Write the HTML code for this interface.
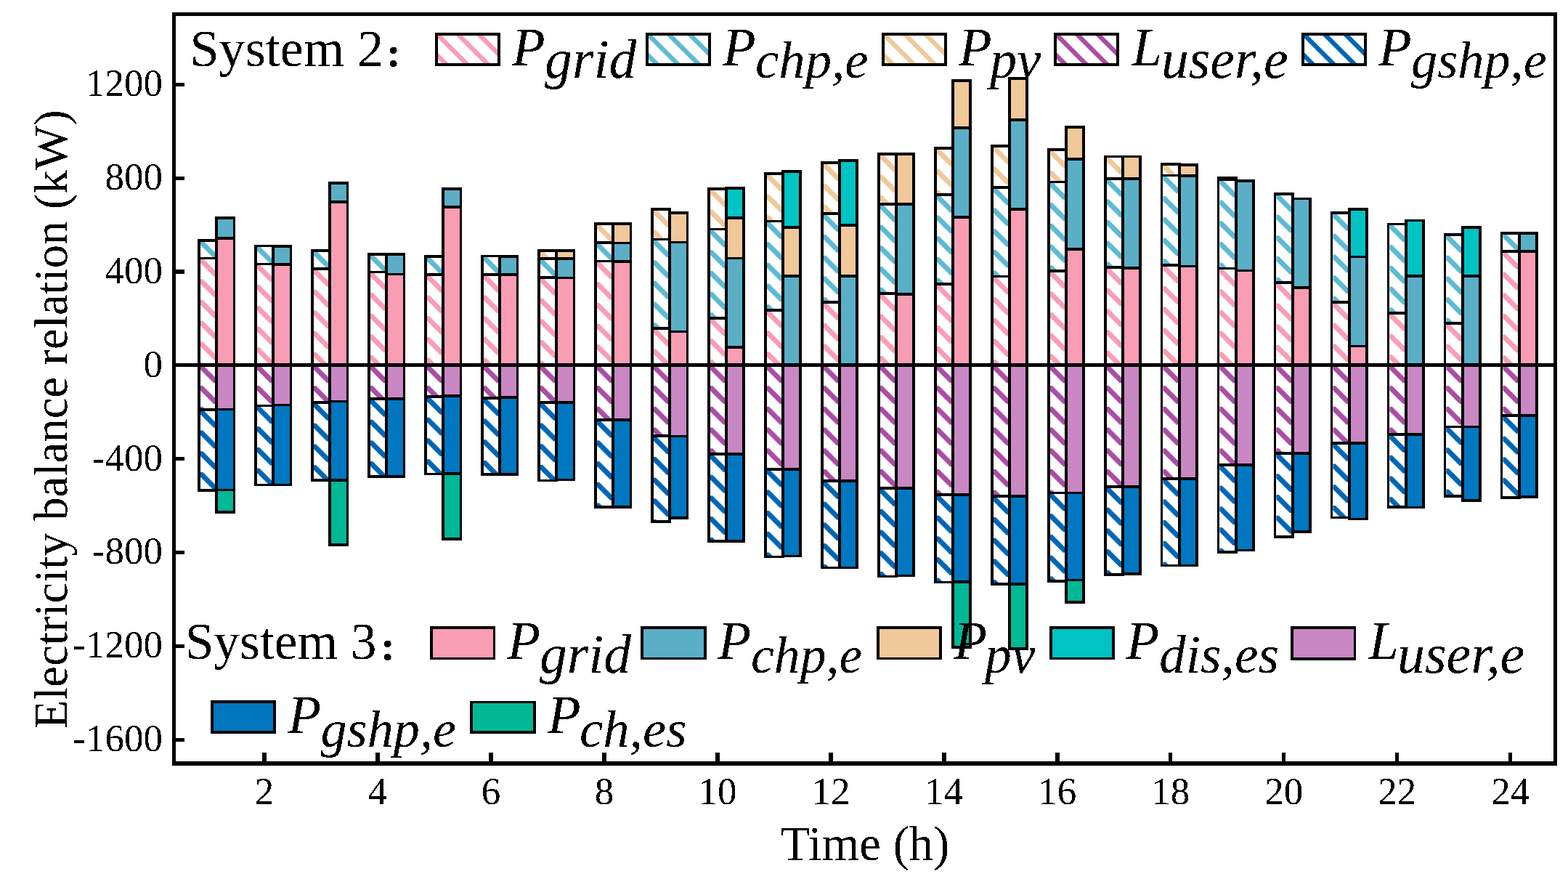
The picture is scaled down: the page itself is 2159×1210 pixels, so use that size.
<!DOCTYPE html>
<html><head><meta charset="utf-8"><title>Electricity balance relation</title>
<style>html,body{margin:0;padding:0;background:#fff;overflow:hidden}svg{display:block}</style></head>
<body>
<svg width="2159" height="1210" viewBox="0 0 2159 1210" shape-rendering="crispEdges" font-family="'Liberation Serif', 'Times New Roman', serif">
<defs>
<filter id="bin" x="0" y="0" width="100%" height="100%" filterUnits="userSpaceOnUse" color-interpolation-filters="sRGB"><feComponentTransfer><feFuncA type="discrete" tableValues="0 1"/></feComponentTransfer></filter>
<pattern id="h1" patternUnits="userSpaceOnUse" x="275.83" y="355.60" width="28.70" height="28.70"><polygon points="0.00,0.00 3.75,0.00 28.55,24.80 18.25,24.80 0.00,6.55" fill="#F99DB5"/></pattern>
<pattern id="h2" patternUnits="userSpaceOnUse" x="275.83" y="330.80" width="28.70" height="28.70"><polygon points="0.00,0.00 3.75,0.00 28.55,24.80 18.25,24.80 0.00,6.55" fill="#5DBAD4"/></pattern>
<pattern id="h3" patternUnits="userSpaceOnUse" x="275.83" y="502.45" width="28.70" height="28.70"><polygon points="0.00,0.00 3.75,0.00 28.55,24.80 18.25,24.80 0.00,6.55" fill="#AA4DA6"/></pattern>
<pattern id="h4" patternUnits="userSpaceOnUse" x="275.83" y="563.90" width="28.70" height="28.70"><polygon points="0.00,0.00 3.75,0.00 28.55,24.80 18.25,24.80 0.00,6.55" fill="#0066B5"/></pattern>
<pattern id="h5" patternUnits="userSpaceOnUse" x="353.81" y="363.50" width="28.70" height="28.70"><polygon points="0.00,0.00 3.75,0.00 28.55,24.80 18.25,24.80 0.00,6.55" fill="#F99DB5"/></pattern>
<pattern id="h6" patternUnits="userSpaceOnUse" x="353.81" y="338.60" width="28.70" height="28.70"><polygon points="0.00,0.00 3.75,0.00 28.55,24.80 18.25,24.80 0.00,6.55" fill="#5DBAD4"/></pattern>
<pattern id="h7" patternUnits="userSpaceOnUse" x="353.81" y="502.45" width="28.70" height="28.70"><polygon points="0.00,0.00 3.75,0.00 28.55,24.80 18.25,24.80 0.00,6.55" fill="#AA4DA6"/></pattern>
<pattern id="h8" patternUnits="userSpaceOnUse" x="353.81" y="558.50" width="28.70" height="28.70"><polygon points="0.00,0.00 3.75,0.00 28.55,24.80 18.25,24.80 0.00,6.55" fill="#0066B5"/></pattern>
<pattern id="h9" patternUnits="userSpaceOnUse" x="431.79" y="370.00" width="28.70" height="28.70"><polygon points="0.00,0.00 3.75,0.00 28.55,24.80 18.25,24.80 0.00,6.55" fill="#F99DB5"/></pattern>
<pattern id="h10" patternUnits="userSpaceOnUse" x="431.79" y="344.90" width="28.70" height="28.70"><polygon points="0.00,0.00 3.75,0.00 28.55,24.80 18.25,24.80 0.00,6.55" fill="#5DBAD4"/></pattern>
<pattern id="h11" patternUnits="userSpaceOnUse" x="431.79" y="502.45" width="28.70" height="28.70"><polygon points="0.00,0.00 3.75,0.00 28.55,24.80 18.25,24.80 0.00,6.55" fill="#AA4DA6"/></pattern>
<pattern id="h12" patternUnits="userSpaceOnUse" x="431.79" y="554.10" width="28.70" height="28.70"><polygon points="0.00,0.00 3.75,0.00 28.55,24.80 18.25,24.80 0.00,6.55" fill="#0066B5"/></pattern>
<pattern id="h13" patternUnits="userSpaceOnUse" x="509.76" y="374.40" width="28.70" height="28.70"><polygon points="0.00,0.00 3.75,0.00 28.55,24.80 18.25,24.80 0.00,6.55" fill="#F99DB5"/></pattern>
<pattern id="h14" patternUnits="userSpaceOnUse" x="509.76" y="349.80" width="28.70" height="28.70"><polygon points="0.00,0.00 3.75,0.00 28.55,24.80 18.25,24.80 0.00,6.55" fill="#5DBAD4"/></pattern>
<pattern id="h15" patternUnits="userSpaceOnUse" x="509.76" y="502.45" width="28.70" height="28.70"><polygon points="0.00,0.00 3.75,0.00 28.55,24.80 18.25,24.80 0.00,6.55" fill="#AA4DA6"/></pattern>
<pattern id="h16" patternUnits="userSpaceOnUse" x="509.76" y="549.00" width="28.70" height="28.70"><polygon points="0.00,0.00 3.75,0.00 28.55,24.80 18.25,24.80 0.00,6.55" fill="#0066B5"/></pattern>
<pattern id="h17" patternUnits="userSpaceOnUse" x="587.75" y="377.80" width="28.70" height="28.70"><polygon points="0.00,0.00 3.75,0.00 28.55,24.80 18.25,24.80 0.00,6.55" fill="#F99DB5"/></pattern>
<pattern id="h18" patternUnits="userSpaceOnUse" x="587.75" y="353.00" width="28.70" height="28.70"><polygon points="0.00,0.00 3.75,0.00 28.55,24.80 18.25,24.80 0.00,6.55" fill="#5DBAD4"/></pattern>
<pattern id="h19" patternUnits="userSpaceOnUse" x="587.75" y="502.45" width="28.70" height="28.70"><polygon points="0.00,0.00 3.75,0.00 28.55,24.80 18.25,24.80 0.00,6.55" fill="#AA4DA6"/></pattern>
<pattern id="h20" patternUnits="userSpaceOnUse" x="587.75" y="546.00" width="28.70" height="28.70"><polygon points="0.00,0.00 3.75,0.00 28.55,24.80 18.25,24.80 0.00,6.55" fill="#0066B5"/></pattern>
<pattern id="h21" patternUnits="userSpaceOnUse" x="665.73" y="377.80" width="28.70" height="28.70"><polygon points="0.00,0.00 3.75,0.00 28.55,24.80 18.25,24.80 0.00,6.55" fill="#F99DB5"/></pattern>
<pattern id="h22" patternUnits="userSpaceOnUse" x="665.73" y="352.40" width="28.70" height="28.70"><polygon points="0.00,0.00 3.75,0.00 28.55,24.80 18.25,24.80 0.00,6.55" fill="#5DBAD4"/></pattern>
<pattern id="h23" patternUnits="userSpaceOnUse" x="665.73" y="502.45" width="28.70" height="28.70"><polygon points="0.00,0.00 3.75,0.00 28.55,24.80 18.25,24.80 0.00,6.55" fill="#AA4DA6"/></pattern>
<pattern id="h24" patternUnits="userSpaceOnUse" x="665.73" y="547.80" width="28.70" height="28.70"><polygon points="0.00,0.00 3.75,0.00 28.55,24.80 18.25,24.80 0.00,6.55" fill="#0066B5"/></pattern>
<pattern id="h25" patternUnits="userSpaceOnUse" x="743.71" y="381.90" width="28.70" height="28.70"><polygon points="0.00,0.00 3.75,0.00 28.55,24.80 18.25,24.80 0.00,6.55" fill="#F99DB5"/></pattern>
<pattern id="h26" patternUnits="userSpaceOnUse" x="743.71" y="356.10" width="28.70" height="28.70"><polygon points="0.00,0.00 3.75,0.00 28.55,24.80 18.25,24.80 0.00,6.55" fill="#5DBAD4"/></pattern>
<pattern id="h27" patternUnits="userSpaceOnUse" x="743.71" y="345.20" width="28.70" height="28.70"><polygon points="0.00,0.00 3.75,0.00 28.55,24.80 18.25,24.80 0.00,6.55" fill="#F0C89A"/></pattern>
<pattern id="h28" patternUnits="userSpaceOnUse" x="743.71" y="502.45" width="28.70" height="28.70"><polygon points="0.00,0.00 3.75,0.00 28.55,24.80 18.25,24.80 0.00,6.55" fill="#AA4DA6"/></pattern>
<pattern id="h29" patternUnits="userSpaceOnUse" x="743.71" y="553.90" width="28.70" height="28.70"><polygon points="0.00,0.00 3.75,0.00 28.55,24.80 18.25,24.80 0.00,6.55" fill="#0066B5"/></pattern>
<pattern id="h30" patternUnits="userSpaceOnUse" x="821.69" y="359.60" width="28.70" height="28.70"><polygon points="0.00,0.00 3.75,0.00 28.55,24.80 18.25,24.80 0.00,6.55" fill="#F99DB5"/></pattern>
<pattern id="h31" patternUnits="userSpaceOnUse" x="821.69" y="334.00" width="28.70" height="28.70"><polygon points="0.00,0.00 3.75,0.00 28.55,24.80 18.25,24.80 0.00,6.55" fill="#5DBAD4"/></pattern>
<pattern id="h32" patternUnits="userSpaceOnUse" x="821.69" y="308.10" width="28.70" height="28.70"><polygon points="0.00,0.00 3.75,0.00 28.55,24.80 18.25,24.80 0.00,6.55" fill="#F0C89A"/></pattern>
<pattern id="h33" patternUnits="userSpaceOnUse" x="821.69" y="502.45" width="28.70" height="28.70"><polygon points="0.00,0.00 3.75,0.00 28.55,24.80 18.25,24.80 0.00,6.55" fill="#AA4DA6"/></pattern>
<pattern id="h34" patternUnits="userSpaceOnUse" x="821.69" y="577.70" width="28.70" height="28.70"><polygon points="0.00,0.00 3.75,0.00 28.55,24.80 18.25,24.80 0.00,6.55" fill="#0066B5"/></pattern>
<pattern id="h35" patternUnits="userSpaceOnUse" x="899.67" y="451.80" width="28.70" height="28.70"><polygon points="0.00,0.00 3.75,0.00 28.55,24.80 18.25,24.80 0.00,6.55" fill="#F99DB5"/></pattern>
<pattern id="h36" patternUnits="userSpaceOnUse" x="899.67" y="329.60" width="28.70" height="28.70"><polygon points="0.00,0.00 3.75,0.00 28.55,24.80 18.25,24.80 0.00,6.55" fill="#5DBAD4"/></pattern>
<pattern id="h37" patternUnits="userSpaceOnUse" x="899.67" y="288.10" width="28.70" height="28.70"><polygon points="0.00,0.00 3.75,0.00 28.55,24.80 18.25,24.80 0.00,6.55" fill="#F0C89A"/></pattern>
<pattern id="h38" patternUnits="userSpaceOnUse" x="899.67" y="502.45" width="28.70" height="28.70"><polygon points="0.00,0.00 3.75,0.00 28.55,24.80 18.25,24.80 0.00,6.55" fill="#AA4DA6"/></pattern>
<pattern id="h39" patternUnits="userSpaceOnUse" x="899.67" y="600.30" width="28.70" height="28.70"><polygon points="0.00,0.00 3.75,0.00 28.55,24.80 18.25,24.80 0.00,6.55" fill="#0066B5"/></pattern>
<pattern id="h40" patternUnits="userSpaceOnUse" x="977.65" y="437.70" width="28.70" height="28.70"><polygon points="0.00,0.00 3.75,0.00 28.55,24.80 18.25,24.80 0.00,6.55" fill="#F99DB5"/></pattern>
<pattern id="h41" patternUnits="userSpaceOnUse" x="977.65" y="315.50" width="28.70" height="28.70"><polygon points="0.00,0.00 3.75,0.00 28.55,24.80 18.25,24.80 0.00,6.55" fill="#5DBAD4"/></pattern>
<pattern id="h42" patternUnits="userSpaceOnUse" x="977.65" y="259.90" width="28.70" height="28.70"><polygon points="0.00,0.00 3.75,0.00 28.55,24.80 18.25,24.80 0.00,6.55" fill="#F0C89A"/></pattern>
<pattern id="h43" patternUnits="userSpaceOnUse" x="977.65" y="502.45" width="28.70" height="28.70"><polygon points="0.00,0.00 3.75,0.00 28.55,24.80 18.25,24.80 0.00,6.55" fill="#AA4DA6"/></pattern>
<pattern id="h44" patternUnits="userSpaceOnUse" x="977.65" y="625.00" width="28.70" height="28.70"><polygon points="0.00,0.00 3.75,0.00 28.55,24.80 18.25,24.80 0.00,6.55" fill="#0066B5"/></pattern>
<pattern id="h45" patternUnits="userSpaceOnUse" x="1055.62" y="426.70" width="28.70" height="28.70"><polygon points="0.00,0.00 3.75,0.00 28.55,24.80 18.25,24.80 0.00,6.55" fill="#F99DB5"/></pattern>
<pattern id="h46" patternUnits="userSpaceOnUse" x="1055.62" y="304.50" width="28.70" height="28.70"><polygon points="0.00,0.00 3.75,0.00 28.55,24.80 18.25,24.80 0.00,6.55" fill="#5DBAD4"/></pattern>
<pattern id="h47" patternUnits="userSpaceOnUse" x="1055.62" y="238.90" width="28.70" height="28.70"><polygon points="0.00,0.00 3.75,0.00 28.55,24.80 18.25,24.80 0.00,6.55" fill="#F0C89A"/></pattern>
<pattern id="h48" patternUnits="userSpaceOnUse" x="1055.62" y="502.45" width="28.70" height="28.70"><polygon points="0.00,0.00 3.75,0.00 28.55,24.80 18.25,24.80 0.00,6.55" fill="#AA4DA6"/></pattern>
<pattern id="h49" patternUnits="userSpaceOnUse" x="1055.62" y="645.70" width="28.70" height="28.70"><polygon points="0.00,0.00 3.75,0.00 28.55,24.80 18.25,24.80 0.00,6.55" fill="#0066B5"/></pattern>
<pattern id="h50" patternUnits="userSpaceOnUse" x="1133.61" y="416.20" width="28.70" height="28.70"><polygon points="0.00,0.00 3.75,0.00 28.55,24.80 18.25,24.80 0.00,6.55" fill="#F99DB5"/></pattern>
<pattern id="h51" patternUnits="userSpaceOnUse" x="1133.61" y="294.30" width="28.70" height="28.70"><polygon points="0.00,0.00 3.75,0.00 28.55,24.80 18.25,24.80 0.00,6.55" fill="#5DBAD4"/></pattern>
<pattern id="h52" patternUnits="userSpaceOnUse" x="1133.61" y="224.10" width="28.70" height="28.70"><polygon points="0.00,0.00 3.75,0.00 28.55,24.80 18.25,24.80 0.00,6.55" fill="#F0C89A"/></pattern>
<pattern id="h53" patternUnits="userSpaceOnUse" x="1133.61" y="502.45" width="28.70" height="28.70"><polygon points="0.00,0.00 3.75,0.00 28.55,24.80 18.25,24.80 0.00,6.55" fill="#AA4DA6"/></pattern>
<pattern id="h54" patternUnits="userSpaceOnUse" x="1133.61" y="662.00" width="28.70" height="28.70"><polygon points="0.00,0.00 3.75,0.00 28.55,24.80 18.25,24.80 0.00,6.55" fill="#0066B5"/></pattern>
<pattern id="h55" patternUnits="userSpaceOnUse" x="1211.59" y="404.00" width="28.70" height="28.70"><polygon points="0.00,0.00 3.75,0.00 28.55,24.80 18.25,24.80 0.00,6.55" fill="#F99DB5"/></pattern>
<pattern id="h56" patternUnits="userSpaceOnUse" x="1211.59" y="281.00" width="28.70" height="28.70"><polygon points="0.00,0.00 3.75,0.00 28.55,24.80 18.25,24.80 0.00,6.55" fill="#5DBAD4"/></pattern>
<pattern id="h57" patternUnits="userSpaceOnUse" x="1211.59" y="211.80" width="28.70" height="28.70"><polygon points="0.00,0.00 3.75,0.00 28.55,24.80 18.25,24.80 0.00,6.55" fill="#F0C89A"/></pattern>
<pattern id="h58" patternUnits="userSpaceOnUse" x="1211.59" y="502.45" width="28.70" height="28.70"><polygon points="0.00,0.00 3.75,0.00 28.55,24.80 18.25,24.80 0.00,6.55" fill="#AA4DA6"/></pattern>
<pattern id="h59" patternUnits="userSpaceOnUse" x="1211.59" y="672.20" width="28.70" height="28.70"><polygon points="0.00,0.00 3.75,0.00 28.55,24.80 18.25,24.80 0.00,6.55" fill="#0066B5"/></pattern>
<pattern id="h60" patternUnits="userSpaceOnUse" x="1289.57" y="390.80" width="28.70" height="28.70"><polygon points="0.00,0.00 3.75,0.00 28.55,24.80 18.25,24.80 0.00,6.55" fill="#F99DB5"/></pattern>
<pattern id="h61" patternUnits="userSpaceOnUse" x="1289.57" y="267.80" width="28.70" height="28.70"><polygon points="0.00,0.00 3.75,0.00 28.55,24.80 18.25,24.80 0.00,6.55" fill="#5DBAD4"/></pattern>
<pattern id="h62" patternUnits="userSpaceOnUse" x="1289.57" y="204.20" width="28.70" height="28.70"><polygon points="0.00,0.00 3.75,0.00 28.55,24.80 18.25,24.80 0.00,6.55" fill="#F0C89A"/></pattern>
<pattern id="h63" patternUnits="userSpaceOnUse" x="1289.57" y="502.45" width="28.70" height="28.70"><polygon points="0.00,0.00 3.75,0.00 28.55,24.80 18.25,24.80 0.00,6.55" fill="#AA4DA6"/></pattern>
<pattern id="h64" patternUnits="userSpaceOnUse" x="1289.57" y="681.00" width="28.70" height="28.70"><polygon points="0.00,0.00 3.75,0.00 28.55,24.80 18.25,24.80 0.00,6.55" fill="#0066B5"/></pattern>
<pattern id="h65" patternUnits="userSpaceOnUse" x="1367.55" y="380.40" width="28.70" height="28.70"><polygon points="0.00,0.00 3.75,0.00 28.55,24.80 18.25,24.80 0.00,6.55" fill="#F99DB5"/></pattern>
<pattern id="h66" patternUnits="userSpaceOnUse" x="1367.55" y="257.70" width="28.70" height="28.70"><polygon points="0.00,0.00 3.75,0.00 28.55,24.80 18.25,24.80 0.00,6.55" fill="#5DBAD4"/></pattern>
<pattern id="h67" patternUnits="userSpaceOnUse" x="1367.55" y="201.00" width="28.70" height="28.70"><polygon points="0.00,0.00 3.75,0.00 28.55,24.80 18.25,24.80 0.00,6.55" fill="#F0C89A"/></pattern>
<pattern id="h68" patternUnits="userSpaceOnUse" x="1367.55" y="502.45" width="28.70" height="28.70"><polygon points="0.00,0.00 3.75,0.00 28.55,24.80 18.25,24.80 0.00,6.55" fill="#AA4DA6"/></pattern>
<pattern id="h69" patternUnits="userSpaceOnUse" x="1367.55" y="683.30" width="28.70" height="28.70"><polygon points="0.00,0.00 3.75,0.00 28.55,24.80 18.25,24.80 0.00,6.55" fill="#0066B5"/></pattern>
<pattern id="h70" patternUnits="userSpaceOnUse" x="1445.53" y="372.70" width="28.70" height="28.70"><polygon points="0.00,0.00 3.75,0.00 28.55,24.80 18.25,24.80 0.00,6.55" fill="#F99DB5"/></pattern>
<pattern id="h71" patternUnits="userSpaceOnUse" x="1445.53" y="250.50" width="28.70" height="28.70"><polygon points="0.00,0.00 3.75,0.00 28.55,24.80 18.25,24.80 0.00,6.55" fill="#5DBAD4"/></pattern>
<pattern id="h72" patternUnits="userSpaceOnUse" x="1445.53" y="206.30" width="28.70" height="28.70"><polygon points="0.00,0.00 3.75,0.00 28.55,24.80 18.25,24.80 0.00,6.55" fill="#F0C89A"/></pattern>
<pattern id="h73" patternUnits="userSpaceOnUse" x="1445.53" y="502.45" width="28.70" height="28.70"><polygon points="0.00,0.00 3.75,0.00 28.55,24.80 18.25,24.80 0.00,6.55" fill="#AA4DA6"/></pattern>
<pattern id="h74" patternUnits="userSpaceOnUse" x="1445.53" y="678.60" width="28.70" height="28.70"><polygon points="0.00,0.00 3.75,0.00 28.55,24.80 18.25,24.80 0.00,6.55" fill="#0066B5"/></pattern>
<pattern id="h75" patternUnits="userSpaceOnUse" x="1523.51" y="368.00" width="28.70" height="28.70"><polygon points="0.00,0.00 3.75,0.00 28.55,24.80 18.25,24.80 0.00,6.55" fill="#F99DB5"/></pattern>
<pattern id="h76" patternUnits="userSpaceOnUse" x="1523.51" y="245.70" width="28.70" height="28.70"><polygon points="0.00,0.00 3.75,0.00 28.55,24.80 18.25,24.80 0.00,6.55" fill="#5DBAD4"/></pattern>
<pattern id="h77" patternUnits="userSpaceOnUse" x="1523.51" y="215.50" width="28.70" height="28.70"><polygon points="0.00,0.00 3.75,0.00 28.55,24.80 18.25,24.80 0.00,6.55" fill="#F0C89A"/></pattern>
<pattern id="h78" patternUnits="userSpaceOnUse" x="1523.51" y="502.45" width="28.70" height="28.70"><polygon points="0.00,0.00 3.75,0.00 28.55,24.80 18.25,24.80 0.00,6.55" fill="#AA4DA6"/></pattern>
<pattern id="h79" patternUnits="userSpaceOnUse" x="1523.51" y="670.10" width="28.70" height="28.70"><polygon points="0.00,0.00 3.75,0.00 28.55,24.80 18.25,24.80 0.00,6.55" fill="#0066B5"/></pattern>
<pattern id="h80" patternUnits="userSpaceOnUse" x="1601.49" y="365.20" width="28.70" height="28.70"><polygon points="0.00,0.00 3.75,0.00 28.55,24.80 18.25,24.80 0.00,6.55" fill="#F99DB5"/></pattern>
<pattern id="h81" patternUnits="userSpaceOnUse" x="1601.49" y="241.50" width="28.70" height="28.70"><polygon points="0.00,0.00 3.75,0.00 28.55,24.80 18.25,24.80 0.00,6.55" fill="#5DBAD4"/></pattern>
<pattern id="h82" patternUnits="userSpaceOnUse" x="1601.49" y="226.00" width="28.70" height="28.70"><polygon points="0.00,0.00 3.75,0.00 28.55,24.80 18.25,24.80 0.00,6.55" fill="#F0C89A"/></pattern>
<pattern id="h83" patternUnits="userSpaceOnUse" x="1601.49" y="502.45" width="28.70" height="28.70"><polygon points="0.00,0.00 3.75,0.00 28.55,24.80 18.25,24.80 0.00,6.55" fill="#AA4DA6"/></pattern>
<pattern id="h84" patternUnits="userSpaceOnUse" x="1601.49" y="658.70" width="28.70" height="28.70"><polygon points="0.00,0.00 3.75,0.00 28.55,24.80 18.25,24.80 0.00,6.55" fill="#0066B5"/></pattern>
<pattern id="h85" patternUnits="userSpaceOnUse" x="1679.47" y="369.60" width="28.70" height="28.70"><polygon points="0.00,0.00 3.75,0.00 28.55,24.80 18.25,24.80 0.00,6.55" fill="#F99DB5"/></pattern>
<pattern id="h86" patternUnits="userSpaceOnUse" x="1679.47" y="246.90" width="28.70" height="28.70"><polygon points="0.00,0.00 3.75,0.00 28.55,24.80 18.25,24.80 0.00,6.55" fill="#5DBAD4"/></pattern>
<pattern id="h87" patternUnits="userSpaceOnUse" x="1679.47" y="245.20" width="28.70" height="28.70"><polygon points="0.00,0.00 3.75,0.00 28.55,24.80 18.25,24.80 0.00,6.55" fill="#F0C89A"/></pattern>
<pattern id="h88" patternUnits="userSpaceOnUse" x="1679.47" y="502.45" width="28.70" height="28.70"><polygon points="0.00,0.00 3.75,0.00 28.55,24.80 18.25,24.80 0.00,6.55" fill="#AA4DA6"/></pattern>
<pattern id="h89" patternUnits="userSpaceOnUse" x="1679.47" y="640.00" width="28.70" height="28.70"><polygon points="0.00,0.00 3.75,0.00 28.55,24.80 18.25,24.80 0.00,6.55" fill="#0066B5"/></pattern>
<pattern id="h90" patternUnits="userSpaceOnUse" x="1757.45" y="388.90" width="28.70" height="28.70"><polygon points="0.00,0.00 3.75,0.00 28.55,24.80 18.25,24.80 0.00,6.55" fill="#F99DB5"/></pattern>
<pattern id="h91" patternUnits="userSpaceOnUse" x="1757.45" y="266.90" width="28.70" height="28.70"><polygon points="0.00,0.00 3.75,0.00 28.55,24.80 18.25,24.80 0.00,6.55" fill="#5DBAD4"/></pattern>
<pattern id="h92" patternUnits="userSpaceOnUse" x="1757.45" y="502.45" width="28.70" height="28.70"><polygon points="0.00,0.00 3.75,0.00 28.55,24.80 18.25,24.80 0.00,6.55" fill="#AA4DA6"/></pattern>
<pattern id="h93" patternUnits="userSpaceOnUse" x="1757.45" y="623.70" width="28.70" height="28.70"><polygon points="0.00,0.00 3.75,0.00 28.55,24.80 18.25,24.80 0.00,6.55" fill="#0066B5"/></pattern>
<pattern id="h94" patternUnits="userSpaceOnUse" x="1835.43" y="416.10" width="28.70" height="28.70"><polygon points="0.00,0.00 3.75,0.00 28.55,24.80 18.25,24.80 0.00,6.55" fill="#F99DB5"/></pattern>
<pattern id="h95" patternUnits="userSpaceOnUse" x="1835.43" y="293.10" width="28.70" height="28.70"><polygon points="0.00,0.00 3.75,0.00 28.55,24.80 18.25,24.80 0.00,6.55" fill="#5DBAD4"/></pattern>
<pattern id="h96" patternUnits="userSpaceOnUse" x="1835.43" y="502.45" width="28.70" height="28.70"><polygon points="0.00,0.00 3.75,0.00 28.55,24.80 18.25,24.80 0.00,6.55" fill="#AA4DA6"/></pattern>
<pattern id="h97" patternUnits="userSpaceOnUse" x="1835.43" y="609.90" width="28.70" height="28.70"><polygon points="0.00,0.00 3.75,0.00 28.55,24.80 18.25,24.80 0.00,6.55" fill="#0066B5"/></pattern>
<pattern id="h98" patternUnits="userSpaceOnUse" x="1913.41" y="430.90" width="28.70" height="28.70"><polygon points="0.00,0.00 3.75,0.00 28.55,24.80 18.25,24.80 0.00,6.55" fill="#F99DB5"/></pattern>
<pattern id="h99" patternUnits="userSpaceOnUse" x="1913.41" y="308.50" width="28.70" height="28.70"><polygon points="0.00,0.00 3.75,0.00 28.55,24.80 18.25,24.80 0.00,6.55" fill="#5DBAD4"/></pattern>
<pattern id="h100" patternUnits="userSpaceOnUse" x="1913.41" y="502.45" width="28.70" height="28.70"><polygon points="0.00,0.00 3.75,0.00 28.55,24.80 18.25,24.80 0.00,6.55" fill="#AA4DA6"/></pattern>
<pattern id="h101" patternUnits="userSpaceOnUse" x="1913.41" y="598.10" width="28.70" height="28.70"><polygon points="0.00,0.00 3.75,0.00 28.55,24.80 18.25,24.80 0.00,6.55" fill="#0066B5"/></pattern>
<pattern id="h102" patternUnits="userSpaceOnUse" x="1991.39" y="445.00" width="28.70" height="28.70"><polygon points="0.00,0.00 3.75,0.00 28.55,24.80 18.25,24.80 0.00,6.55" fill="#F99DB5"/></pattern>
<pattern id="h103" patternUnits="userSpaceOnUse" x="1991.39" y="323.10" width="28.70" height="28.70"><polygon points="0.00,0.00 3.75,0.00 28.55,24.80 18.25,24.80 0.00,6.55" fill="#5DBAD4"/></pattern>
<pattern id="h104" patternUnits="userSpaceOnUse" x="1991.39" y="502.45" width="28.70" height="28.70"><polygon points="0.00,0.00 3.75,0.00 28.55,24.80 18.25,24.80 0.00,6.55" fill="#AA4DA6"/></pattern>
<pattern id="h105" patternUnits="userSpaceOnUse" x="1991.39" y="587.60" width="28.70" height="28.70"><polygon points="0.00,0.00 3.75,0.00 28.55,24.80 18.25,24.80 0.00,6.55" fill="#0066B5"/></pattern>
<pattern id="h106" patternUnits="userSpaceOnUse" x="2069.37" y="345.90" width="28.70" height="28.70"><polygon points="0.00,0.00 3.75,0.00 28.55,24.80 18.25,24.80 0.00,6.55" fill="#F99DB5"/></pattern>
<pattern id="h107" patternUnits="userSpaceOnUse" x="2069.37" y="321.00" width="28.70" height="28.70"><polygon points="0.00,0.00 3.75,0.00 28.55,24.80 18.25,24.80 0.00,6.55" fill="#5DBAD4"/></pattern>
<pattern id="h108" patternUnits="userSpaceOnUse" x="2069.37" y="502.45" width="28.70" height="28.70"><polygon points="0.00,0.00 3.75,0.00 28.55,24.80 18.25,24.80 0.00,6.55" fill="#AA4DA6"/></pattern>
<pattern id="h109" patternUnits="userSpaceOnUse" x="2069.37" y="572.00" width="28.70" height="28.70"><polygon points="0.00,0.00 3.75,0.00 28.55,24.80 18.25,24.80 0.00,6.55" fill="#0066B5"/></pattern>
<pattern id="h110" patternUnits="userSpaceOnUse" x="603.75" y="49.15" width="28.70" height="28.70"><path d="M-28.70 -28.70L57.40 57.40M-28.70 0L28.70 57.40M0 -28.70L57.40 28.70" stroke="#F99DB5" stroke-width="6.5"/></pattern>
<pattern id="h111" patternUnits="userSpaceOnUse" x="893.85" y="48.95" width="28.70" height="28.70"><path d="M-28.70 -28.70L57.40 57.40M-28.70 0L28.70 57.40M0 -28.70L57.40 28.70" stroke="#5DBAD4" stroke-width="6.5"/></pattern>
<pattern id="h112" patternUnits="userSpaceOnUse" x="1218.75" y="49.05" width="28.70" height="28.70"><path d="M-28.70 -28.70L57.40 57.40M-28.70 0L28.70 57.40M0 -28.70L57.40 28.70" stroke="#F0C89A" stroke-width="6.5"/></pattern>
<pattern id="h113" patternUnits="userSpaceOnUse" x="1455.95" y="49.05" width="28.70" height="28.70"><path d="M-28.70 -28.70L57.40 57.40M-28.70 0L28.70 57.40M0 -28.70L57.40 28.70" stroke="#AA4DA6" stroke-width="6.5"/></pattern>
<pattern id="h114" patternUnits="userSpaceOnUse" x="1796.85" y="48.95" width="28.70" height="28.70"><path d="M-28.70 -28.70L57.40 57.40M-28.70 0L28.70 57.40M0 -28.70L57.40 28.70" stroke="#0066B5" stroke-width="6.5"/></pattern>
</defs>
<rect width="2159" height="1210" fill="#fff"/>
<rect x="273.95" y="355.60" width="24.30" height="146.85" fill="#fff"/>
<rect x="273.95" y="355.60" width="24.30" height="146.85" fill="url(#h1)"/>
<rect x="273.95" y="355.60" width="24.30" height="146.85" fill="none" stroke="#000" stroke-width="3.75"/>
<rect x="273.95" y="330.80" width="24.30" height="24.80" fill="#fff"/>
<rect x="273.95" y="330.80" width="24.30" height="24.80" fill="url(#h2)"/>
<rect x="273.95" y="330.80" width="24.30" height="24.80" fill="none" stroke="#000" stroke-width="3.75"/>
<rect x="273.95" y="502.45" width="24.30" height="61.45" fill="#fff"/>
<rect x="273.95" y="502.45" width="24.30" height="61.45" fill="url(#h3)"/>
<rect x="273.95" y="502.45" width="24.30" height="61.45" fill="none" stroke="#000" stroke-width="3.75"/>
<rect x="273.95" y="563.90" width="24.30" height="111.10" fill="#fff"/>
<rect x="273.95" y="563.90" width="24.30" height="111.10" fill="url(#h4)"/>
<rect x="273.95" y="563.90" width="24.30" height="111.10" fill="none" stroke="#000" stroke-width="3.75"/>
<rect x="298.25" y="327.80" width="24.30" height="174.65" fill="#F99DB5"/>
<rect x="298.25" y="327.80" width="24.30" height="174.65" fill="none" stroke="#000" stroke-width="3.75"/>
<rect x="298.25" y="300.20" width="24.30" height="27.60" fill="#5AAFC6"/>
<rect x="298.25" y="300.20" width="24.30" height="27.60" fill="none" stroke="#000" stroke-width="3.75"/>
<rect x="298.25" y="502.45" width="24.30" height="61.15" fill="#C987C3"/>
<rect x="298.25" y="502.45" width="24.30" height="61.15" fill="none" stroke="#000" stroke-width="3.75"/>
<rect x="298.25" y="563.60" width="24.30" height="110.80" fill="#0077C0"/>
<rect x="298.25" y="563.60" width="24.30" height="110.80" fill="none" stroke="#000" stroke-width="3.75"/>
<rect x="298.25" y="674.40" width="24.30" height="30.50" fill="#00B896"/>
<rect x="298.25" y="674.40" width="24.30" height="30.50" fill="none" stroke="#000" stroke-width="3.75"/>
<rect x="351.93" y="363.50" width="24.30" height="138.95" fill="#fff"/>
<rect x="351.93" y="363.50" width="24.30" height="138.95" fill="url(#h5)"/>
<rect x="351.93" y="363.50" width="24.30" height="138.95" fill="none" stroke="#000" stroke-width="3.75"/>
<rect x="351.93" y="338.60" width="24.30" height="24.90" fill="#fff"/>
<rect x="351.93" y="338.60" width="24.30" height="24.90" fill="url(#h6)"/>
<rect x="351.93" y="338.60" width="24.30" height="24.90" fill="none" stroke="#000" stroke-width="3.75"/>
<rect x="351.93" y="502.45" width="24.30" height="56.05" fill="#fff"/>
<rect x="351.93" y="502.45" width="24.30" height="56.05" fill="url(#h7)"/>
<rect x="351.93" y="502.45" width="24.30" height="56.05" fill="none" stroke="#000" stroke-width="3.75"/>
<rect x="351.93" y="558.50" width="24.30" height="109.10" fill="#fff"/>
<rect x="351.93" y="558.50" width="24.30" height="109.10" fill="url(#h8)"/>
<rect x="351.93" y="558.50" width="24.30" height="109.10" fill="none" stroke="#000" stroke-width="3.75"/>
<rect x="376.23" y="364.00" width="24.30" height="138.45" fill="#F99DB5"/>
<rect x="376.23" y="364.00" width="24.30" height="138.45" fill="none" stroke="#000" stroke-width="3.75"/>
<rect x="376.23" y="339.00" width="24.30" height="25.00" fill="#5AAFC6"/>
<rect x="376.23" y="339.00" width="24.30" height="25.00" fill="none" stroke="#000" stroke-width="3.75"/>
<rect x="376.23" y="502.45" width="24.30" height="55.05" fill="#C987C3"/>
<rect x="376.23" y="502.45" width="24.30" height="55.05" fill="none" stroke="#000" stroke-width="3.75"/>
<rect x="376.23" y="557.50" width="24.30" height="109.90" fill="#0077C0"/>
<rect x="376.23" y="557.50" width="24.30" height="109.90" fill="none" stroke="#000" stroke-width="3.75"/>
<rect x="429.91" y="370.00" width="24.30" height="132.45" fill="#fff"/>
<rect x="429.91" y="370.00" width="24.30" height="132.45" fill="url(#h9)"/>
<rect x="429.91" y="370.00" width="24.30" height="132.45" fill="none" stroke="#000" stroke-width="3.75"/>
<rect x="429.91" y="344.90" width="24.30" height="25.10" fill="#fff"/>
<rect x="429.91" y="344.90" width="24.30" height="25.10" fill="url(#h10)"/>
<rect x="429.91" y="344.90" width="24.30" height="25.10" fill="none" stroke="#000" stroke-width="3.75"/>
<rect x="429.91" y="502.45" width="24.30" height="51.65" fill="#fff"/>
<rect x="429.91" y="502.45" width="24.30" height="51.65" fill="url(#h11)"/>
<rect x="429.91" y="502.45" width="24.30" height="51.65" fill="none" stroke="#000" stroke-width="3.75"/>
<rect x="429.91" y="554.10" width="24.30" height="107.10" fill="#fff"/>
<rect x="429.91" y="554.10" width="24.30" height="107.10" fill="url(#h12)"/>
<rect x="429.91" y="554.10" width="24.30" height="107.10" fill="none" stroke="#000" stroke-width="3.75"/>
<rect x="454.21" y="278.00" width="24.30" height="224.45" fill="#F99DB5"/>
<rect x="454.21" y="278.00" width="24.30" height="224.45" fill="none" stroke="#000" stroke-width="3.75"/>
<rect x="454.21" y="252.10" width="24.30" height="25.90" fill="#5AAFC6"/>
<rect x="454.21" y="252.10" width="24.30" height="25.90" fill="none" stroke="#000" stroke-width="3.75"/>
<rect x="454.21" y="502.45" width="24.30" height="49.95" fill="#C987C3"/>
<rect x="454.21" y="502.45" width="24.30" height="49.95" fill="none" stroke="#000" stroke-width="3.75"/>
<rect x="454.21" y="552.40" width="24.30" height="108.40" fill="#0077C0"/>
<rect x="454.21" y="552.40" width="24.30" height="108.40" fill="none" stroke="#000" stroke-width="3.75"/>
<rect x="454.21" y="660.80" width="24.30" height="89.10" fill="#00B896"/>
<rect x="454.21" y="660.80" width="24.30" height="89.10" fill="none" stroke="#000" stroke-width="3.75"/>
<rect x="507.89" y="374.40" width="24.30" height="128.05" fill="#fff"/>
<rect x="507.89" y="374.40" width="24.30" height="128.05" fill="url(#h13)"/>
<rect x="507.89" y="374.40" width="24.30" height="128.05" fill="none" stroke="#000" stroke-width="3.75"/>
<rect x="507.89" y="349.80" width="24.30" height="24.60" fill="#fff"/>
<rect x="507.89" y="349.80" width="24.30" height="24.60" fill="url(#h14)"/>
<rect x="507.89" y="349.80" width="24.30" height="24.60" fill="none" stroke="#000" stroke-width="3.75"/>
<rect x="507.89" y="502.45" width="24.30" height="46.55" fill="#fff"/>
<rect x="507.89" y="502.45" width="24.30" height="46.55" fill="url(#h15)"/>
<rect x="507.89" y="502.45" width="24.30" height="46.55" fill="none" stroke="#000" stroke-width="3.75"/>
<rect x="507.89" y="549.00" width="24.30" height="106.70" fill="#fff"/>
<rect x="507.89" y="549.00" width="24.30" height="106.70" fill="url(#h16)"/>
<rect x="507.89" y="549.00" width="24.30" height="106.70" fill="none" stroke="#000" stroke-width="3.75"/>
<rect x="532.19" y="377.40" width="24.30" height="125.05" fill="#F99DB5"/>
<rect x="532.19" y="377.40" width="24.30" height="125.05" fill="none" stroke="#000" stroke-width="3.75"/>
<rect x="532.19" y="350.30" width="24.30" height="27.10" fill="#5AAFC6"/>
<rect x="532.19" y="350.30" width="24.30" height="27.10" fill="none" stroke="#000" stroke-width="3.75"/>
<rect x="532.19" y="502.45" width="24.30" height="46.45" fill="#C987C3"/>
<rect x="532.19" y="502.45" width="24.30" height="46.45" fill="none" stroke="#000" stroke-width="3.75"/>
<rect x="532.19" y="548.90" width="24.30" height="106.80" fill="#0077C0"/>
<rect x="532.19" y="548.90" width="24.30" height="106.80" fill="none" stroke="#000" stroke-width="3.75"/>
<rect x="585.87" y="377.80" width="24.30" height="124.65" fill="#fff"/>
<rect x="585.87" y="377.80" width="24.30" height="124.65" fill="url(#h17)"/>
<rect x="585.87" y="377.80" width="24.30" height="124.65" fill="none" stroke="#000" stroke-width="3.75"/>
<rect x="585.87" y="353.00" width="24.30" height="24.80" fill="#fff"/>
<rect x="585.87" y="353.00" width="24.30" height="24.80" fill="url(#h18)"/>
<rect x="585.87" y="353.00" width="24.30" height="24.80" fill="none" stroke="#000" stroke-width="3.75"/>
<rect x="585.87" y="502.45" width="24.30" height="43.55" fill="#fff"/>
<rect x="585.87" y="502.45" width="24.30" height="43.55" fill="url(#h19)"/>
<rect x="585.87" y="502.45" width="24.30" height="43.55" fill="none" stroke="#000" stroke-width="3.75"/>
<rect x="585.87" y="546.00" width="24.30" height="106.50" fill="#fff"/>
<rect x="585.87" y="546.00" width="24.30" height="106.50" fill="url(#h20)"/>
<rect x="585.87" y="546.00" width="24.30" height="106.50" fill="none" stroke="#000" stroke-width="3.75"/>
<rect x="610.17" y="285.10" width="24.30" height="217.35" fill="#F99DB5"/>
<rect x="610.17" y="285.10" width="24.30" height="217.35" fill="none" stroke="#000" stroke-width="3.75"/>
<rect x="610.17" y="259.70" width="24.30" height="25.40" fill="#5AAFC6"/>
<rect x="610.17" y="259.70" width="24.30" height="25.40" fill="none" stroke="#000" stroke-width="3.75"/>
<rect x="610.17" y="502.45" width="24.30" height="42.55" fill="#C987C3"/>
<rect x="610.17" y="502.45" width="24.30" height="42.55" fill="none" stroke="#000" stroke-width="3.75"/>
<rect x="610.17" y="545.00" width="24.30" height="106.70" fill="#0077C0"/>
<rect x="610.17" y="545.00" width="24.30" height="106.70" fill="none" stroke="#000" stroke-width="3.75"/>
<rect x="610.17" y="651.70" width="24.30" height="90.40" fill="#00B896"/>
<rect x="610.17" y="651.70" width="24.30" height="90.40" fill="none" stroke="#000" stroke-width="3.75"/>
<rect x="663.85" y="377.80" width="24.30" height="124.65" fill="#fff"/>
<rect x="663.85" y="377.80" width="24.30" height="124.65" fill="url(#h21)"/>
<rect x="663.85" y="377.80" width="24.30" height="124.65" fill="none" stroke="#000" stroke-width="3.75"/>
<rect x="663.85" y="352.40" width="24.30" height="25.40" fill="#fff"/>
<rect x="663.85" y="352.40" width="24.30" height="25.40" fill="url(#h22)"/>
<rect x="663.85" y="352.40" width="24.30" height="25.40" fill="none" stroke="#000" stroke-width="3.75"/>
<rect x="663.85" y="502.45" width="24.30" height="45.35" fill="#fff"/>
<rect x="663.85" y="502.45" width="24.30" height="45.35" fill="url(#h23)"/>
<rect x="663.85" y="502.45" width="24.30" height="45.35" fill="none" stroke="#000" stroke-width="3.75"/>
<rect x="663.85" y="547.80" width="24.30" height="105.10" fill="#fff"/>
<rect x="663.85" y="547.80" width="24.30" height="105.10" fill="url(#h24)"/>
<rect x="663.85" y="547.80" width="24.30" height="105.10" fill="none" stroke="#000" stroke-width="3.75"/>
<rect x="688.15" y="378.00" width="24.30" height="124.45" fill="#F99DB5"/>
<rect x="688.15" y="378.00" width="24.30" height="124.45" fill="none" stroke="#000" stroke-width="3.75"/>
<rect x="688.15" y="353.00" width="24.30" height="25.00" fill="#5AAFC6"/>
<rect x="688.15" y="353.00" width="24.30" height="25.00" fill="none" stroke="#000" stroke-width="3.75"/>
<rect x="688.15" y="502.45" width="24.30" height="44.85" fill="#C987C3"/>
<rect x="688.15" y="502.45" width="24.30" height="44.85" fill="none" stroke="#000" stroke-width="3.75"/>
<rect x="688.15" y="547.30" width="24.30" height="105.70" fill="#0077C0"/>
<rect x="688.15" y="547.30" width="24.30" height="105.70" fill="none" stroke="#000" stroke-width="3.75"/>
<rect x="741.83" y="381.90" width="24.30" height="120.55" fill="#fff"/>
<rect x="741.83" y="381.90" width="24.30" height="120.55" fill="url(#h25)"/>
<rect x="741.83" y="381.90" width="24.30" height="120.55" fill="none" stroke="#000" stroke-width="3.75"/>
<rect x="741.83" y="356.10" width="24.30" height="25.80" fill="#fff"/>
<rect x="741.83" y="356.10" width="24.30" height="25.80" fill="url(#h26)"/>
<rect x="741.83" y="356.10" width="24.30" height="25.80" fill="none" stroke="#000" stroke-width="3.75"/>
<rect x="741.83" y="345.20" width="24.30" height="10.90" fill="#fff"/>
<rect x="741.83" y="345.20" width="24.30" height="10.90" fill="url(#h27)"/>
<rect x="741.83" y="345.20" width="24.30" height="10.90" fill="none" stroke="#000" stroke-width="3.75"/>
<rect x="741.83" y="502.45" width="24.30" height="51.45" fill="#fff"/>
<rect x="741.83" y="502.45" width="24.30" height="51.45" fill="url(#h28)"/>
<rect x="741.83" y="502.45" width="24.30" height="51.45" fill="none" stroke="#000" stroke-width="3.75"/>
<rect x="741.83" y="553.90" width="24.30" height="107.60" fill="#fff"/>
<rect x="741.83" y="553.90" width="24.30" height="107.60" fill="url(#h29)"/>
<rect x="741.83" y="553.90" width="24.30" height="107.60" fill="none" stroke="#000" stroke-width="3.75"/>
<rect x="766.13" y="382.40" width="24.30" height="120.05" fill="#F99DB5"/>
<rect x="766.13" y="382.40" width="24.30" height="120.05" fill="none" stroke="#000" stroke-width="3.75"/>
<rect x="766.13" y="356.20" width="24.30" height="26.20" fill="#5AAFC6"/>
<rect x="766.13" y="356.20" width="24.30" height="26.20" fill="none" stroke="#000" stroke-width="3.75"/>
<rect x="766.13" y="345.20" width="24.30" height="11.00" fill="#F0C89A"/>
<rect x="766.13" y="345.20" width="24.30" height="11.00" fill="none" stroke="#000" stroke-width="3.75"/>
<rect x="766.13" y="502.45" width="24.30" height="51.35" fill="#C987C3"/>
<rect x="766.13" y="502.45" width="24.30" height="51.35" fill="none" stroke="#000" stroke-width="3.75"/>
<rect x="766.13" y="553.80" width="24.30" height="106.70" fill="#0077C0"/>
<rect x="766.13" y="553.80" width="24.30" height="106.70" fill="none" stroke="#000" stroke-width="3.75"/>
<rect x="819.81" y="359.60" width="24.30" height="142.85" fill="#fff"/>
<rect x="819.81" y="359.60" width="24.30" height="142.85" fill="url(#h30)"/>
<rect x="819.81" y="359.60" width="24.30" height="142.85" fill="none" stroke="#000" stroke-width="3.75"/>
<rect x="819.81" y="334.00" width="24.30" height="25.60" fill="#fff"/>
<rect x="819.81" y="334.00" width="24.30" height="25.60" fill="url(#h31)"/>
<rect x="819.81" y="334.00" width="24.30" height="25.60" fill="none" stroke="#000" stroke-width="3.75"/>
<rect x="819.81" y="308.10" width="24.30" height="25.90" fill="#fff"/>
<rect x="819.81" y="308.10" width="24.30" height="25.90" fill="url(#h32)"/>
<rect x="819.81" y="308.10" width="24.30" height="25.90" fill="none" stroke="#000" stroke-width="3.75"/>
<rect x="819.81" y="502.45" width="24.30" height="75.25" fill="#fff"/>
<rect x="819.81" y="502.45" width="24.30" height="75.25" fill="url(#h33)"/>
<rect x="819.81" y="502.45" width="24.30" height="75.25" fill="none" stroke="#000" stroke-width="3.75"/>
<rect x="819.81" y="577.70" width="24.30" height="120.20" fill="#fff"/>
<rect x="819.81" y="577.70" width="24.30" height="120.20" fill="url(#h34)"/>
<rect x="819.81" y="577.70" width="24.30" height="120.20" fill="none" stroke="#000" stroke-width="3.75"/>
<rect x="844.11" y="360.10" width="24.30" height="142.35" fill="#F99DB5"/>
<rect x="844.11" y="360.10" width="24.30" height="142.35" fill="none" stroke="#000" stroke-width="3.75"/>
<rect x="844.11" y="334.50" width="24.30" height="25.60" fill="#5AAFC6"/>
<rect x="844.11" y="334.50" width="24.30" height="25.60" fill="none" stroke="#000" stroke-width="3.75"/>
<rect x="844.11" y="308.10" width="24.30" height="26.40" fill="#F0C89A"/>
<rect x="844.11" y="308.10" width="24.30" height="26.40" fill="none" stroke="#000" stroke-width="3.75"/>
<rect x="844.11" y="502.45" width="24.30" height="75.45" fill="#C987C3"/>
<rect x="844.11" y="502.45" width="24.30" height="75.45" fill="none" stroke="#000" stroke-width="3.75"/>
<rect x="844.11" y="577.90" width="24.30" height="120.00" fill="#0077C0"/>
<rect x="844.11" y="577.90" width="24.30" height="120.00" fill="none" stroke="#000" stroke-width="3.75"/>
<rect x="897.79" y="451.80" width="24.30" height="50.65" fill="#fff"/>
<rect x="897.79" y="451.80" width="24.30" height="50.65" fill="url(#h35)"/>
<rect x="897.79" y="451.80" width="24.30" height="50.65" fill="none" stroke="#000" stroke-width="3.75"/>
<rect x="897.79" y="329.60" width="24.30" height="122.20" fill="#fff"/>
<rect x="897.79" y="329.60" width="24.30" height="122.20" fill="url(#h36)"/>
<rect x="897.79" y="329.60" width="24.30" height="122.20" fill="none" stroke="#000" stroke-width="3.75"/>
<rect x="897.79" y="288.10" width="24.30" height="41.50" fill="#fff"/>
<rect x="897.79" y="288.10" width="24.30" height="41.50" fill="url(#h37)"/>
<rect x="897.79" y="288.10" width="24.30" height="41.50" fill="none" stroke="#000" stroke-width="3.75"/>
<rect x="897.79" y="502.45" width="24.30" height="97.85" fill="#fff"/>
<rect x="897.79" y="502.45" width="24.30" height="97.85" fill="url(#h38)"/>
<rect x="897.79" y="502.45" width="24.30" height="97.85" fill="none" stroke="#000" stroke-width="3.75"/>
<rect x="897.79" y="600.30" width="24.30" height="117.50" fill="#fff"/>
<rect x="897.79" y="600.30" width="24.30" height="117.50" fill="url(#h39)"/>
<rect x="897.79" y="600.30" width="24.30" height="117.50" fill="none" stroke="#000" stroke-width="3.75"/>
<rect x="922.09" y="456.40" width="24.30" height="46.05" fill="#F99DB5"/>
<rect x="922.09" y="456.40" width="24.30" height="46.05" fill="none" stroke="#000" stroke-width="3.75"/>
<rect x="922.09" y="333.50" width="24.30" height="122.90" fill="#5AAFC6"/>
<rect x="922.09" y="333.50" width="24.30" height="122.90" fill="none" stroke="#000" stroke-width="3.75"/>
<rect x="922.09" y="292.70" width="24.30" height="40.80" fill="#F0C89A"/>
<rect x="922.09" y="292.70" width="24.30" height="40.80" fill="none" stroke="#000" stroke-width="3.75"/>
<rect x="922.09" y="502.45" width="24.30" height="97.95" fill="#C987C3"/>
<rect x="922.09" y="502.45" width="24.30" height="97.95" fill="none" stroke="#000" stroke-width="3.75"/>
<rect x="922.09" y="600.40" width="24.30" height="112.80" fill="#0077C0"/>
<rect x="922.09" y="600.40" width="24.30" height="112.80" fill="none" stroke="#000" stroke-width="3.75"/>
<rect x="975.77" y="437.70" width="24.30" height="64.75" fill="#fff"/>
<rect x="975.77" y="437.70" width="24.30" height="64.75" fill="url(#h40)"/>
<rect x="975.77" y="437.70" width="24.30" height="64.75" fill="none" stroke="#000" stroke-width="3.75"/>
<rect x="975.77" y="315.50" width="24.30" height="122.20" fill="#fff"/>
<rect x="975.77" y="315.50" width="24.30" height="122.20" fill="url(#h41)"/>
<rect x="975.77" y="315.50" width="24.30" height="122.20" fill="none" stroke="#000" stroke-width="3.75"/>
<rect x="975.77" y="259.90" width="24.30" height="55.60" fill="#fff"/>
<rect x="975.77" y="259.90" width="24.30" height="55.60" fill="url(#h42)"/>
<rect x="975.77" y="259.90" width="24.30" height="55.60" fill="none" stroke="#000" stroke-width="3.75"/>
<rect x="975.77" y="502.45" width="24.30" height="122.55" fill="#fff"/>
<rect x="975.77" y="502.45" width="24.30" height="122.55" fill="url(#h43)"/>
<rect x="975.77" y="502.45" width="24.30" height="122.55" fill="none" stroke="#000" stroke-width="3.75"/>
<rect x="975.77" y="625.00" width="24.30" height="120.00" fill="#fff"/>
<rect x="975.77" y="625.00" width="24.30" height="120.00" fill="url(#h44)"/>
<rect x="975.77" y="625.00" width="24.30" height="120.00" fill="none" stroke="#000" stroke-width="3.75"/>
<rect x="1000.07" y="478.20" width="24.30" height="24.25" fill="#F99DB5"/>
<rect x="1000.07" y="478.20" width="24.30" height="24.25" fill="none" stroke="#000" stroke-width="3.75"/>
<rect x="1000.07" y="355.50" width="24.30" height="122.70" fill="#5AAFC6"/>
<rect x="1000.07" y="355.50" width="24.30" height="122.70" fill="none" stroke="#000" stroke-width="3.75"/>
<rect x="1000.07" y="299.80" width="24.30" height="55.70" fill="#F0C89A"/>
<rect x="1000.07" y="299.80" width="24.30" height="55.70" fill="none" stroke="#000" stroke-width="3.75"/>
<rect x="1000.07" y="258.90" width="24.30" height="40.90" fill="#00C3C3"/>
<rect x="1000.07" y="258.90" width="24.30" height="40.90" fill="none" stroke="#000" stroke-width="3.75"/>
<rect x="1000.07" y="502.45" width="24.30" height="122.55" fill="#C987C3"/>
<rect x="1000.07" y="502.45" width="24.30" height="122.55" fill="none" stroke="#000" stroke-width="3.75"/>
<rect x="1000.07" y="625.00" width="24.30" height="120.00" fill="#0077C0"/>
<rect x="1000.07" y="625.00" width="24.30" height="120.00" fill="none" stroke="#000" stroke-width="3.75"/>
<rect x="1053.75" y="426.70" width="24.30" height="75.75" fill="#fff"/>
<rect x="1053.75" y="426.70" width="24.30" height="75.75" fill="url(#h45)"/>
<rect x="1053.75" y="426.70" width="24.30" height="75.75" fill="none" stroke="#000" stroke-width="3.75"/>
<rect x="1053.75" y="304.50" width="24.30" height="122.20" fill="#fff"/>
<rect x="1053.75" y="304.50" width="24.30" height="122.20" fill="url(#h46)"/>
<rect x="1053.75" y="304.50" width="24.30" height="122.20" fill="none" stroke="#000" stroke-width="3.75"/>
<rect x="1053.75" y="238.90" width="24.30" height="65.60" fill="#fff"/>
<rect x="1053.75" y="238.90" width="24.30" height="65.60" fill="url(#h47)"/>
<rect x="1053.75" y="238.90" width="24.30" height="65.60" fill="none" stroke="#000" stroke-width="3.75"/>
<rect x="1053.75" y="502.45" width="24.30" height="143.25" fill="#fff"/>
<rect x="1053.75" y="502.45" width="24.30" height="143.25" fill="url(#h48)"/>
<rect x="1053.75" y="502.45" width="24.30" height="143.25" fill="none" stroke="#000" stroke-width="3.75"/>
<rect x="1053.75" y="645.70" width="24.30" height="120.80" fill="#fff"/>
<rect x="1053.75" y="645.70" width="24.30" height="120.80" fill="url(#h49)"/>
<rect x="1053.75" y="645.70" width="24.30" height="120.80" fill="none" stroke="#000" stroke-width="3.75"/>
<rect x="1078.05" y="380.10" width="24.30" height="122.35" fill="#5AAFC6"/>
<rect x="1078.05" y="380.10" width="24.30" height="122.35" fill="none" stroke="#000" stroke-width="3.75"/>
<rect x="1078.05" y="313.00" width="24.30" height="67.10" fill="#F0C89A"/>
<rect x="1078.05" y="313.00" width="24.30" height="67.10" fill="none" stroke="#000" stroke-width="3.75"/>
<rect x="1078.05" y="235.90" width="24.30" height="77.10" fill="#00C3C3"/>
<rect x="1078.05" y="235.90" width="24.30" height="77.10" fill="none" stroke="#000" stroke-width="3.75"/>
<rect x="1078.05" y="502.45" width="24.30" height="143.25" fill="#C987C3"/>
<rect x="1078.05" y="502.45" width="24.30" height="143.25" fill="none" stroke="#000" stroke-width="3.75"/>
<rect x="1078.05" y="645.70" width="24.30" height="119.80" fill="#0077C0"/>
<rect x="1078.05" y="645.70" width="24.30" height="119.80" fill="none" stroke="#000" stroke-width="3.75"/>
<rect x="1131.73" y="416.20" width="24.30" height="86.25" fill="#fff"/>
<rect x="1131.73" y="416.20" width="24.30" height="86.25" fill="url(#h50)"/>
<rect x="1131.73" y="416.20" width="24.30" height="86.25" fill="none" stroke="#000" stroke-width="3.75"/>
<rect x="1131.73" y="294.30" width="24.30" height="121.90" fill="#fff"/>
<rect x="1131.73" y="294.30" width="24.30" height="121.90" fill="url(#h51)"/>
<rect x="1131.73" y="294.30" width="24.30" height="121.90" fill="none" stroke="#000" stroke-width="3.75"/>
<rect x="1131.73" y="224.10" width="24.30" height="70.20" fill="#fff"/>
<rect x="1131.73" y="224.10" width="24.30" height="70.20" fill="url(#h52)"/>
<rect x="1131.73" y="224.10" width="24.30" height="70.20" fill="none" stroke="#000" stroke-width="3.75"/>
<rect x="1131.73" y="502.45" width="24.30" height="159.55" fill="#fff"/>
<rect x="1131.73" y="502.45" width="24.30" height="159.55" fill="url(#h53)"/>
<rect x="1131.73" y="502.45" width="24.30" height="159.55" fill="none" stroke="#000" stroke-width="3.75"/>
<rect x="1131.73" y="662.00" width="24.30" height="119.60" fill="#fff"/>
<rect x="1131.73" y="662.00" width="24.30" height="119.60" fill="url(#h54)"/>
<rect x="1131.73" y="662.00" width="24.30" height="119.60" fill="none" stroke="#000" stroke-width="3.75"/>
<rect x="1156.03" y="380.10" width="24.30" height="122.35" fill="#5AAFC6"/>
<rect x="1156.03" y="380.10" width="24.30" height="122.35" fill="none" stroke="#000" stroke-width="3.75"/>
<rect x="1156.03" y="309.90" width="24.30" height="70.20" fill="#F0C89A"/>
<rect x="1156.03" y="309.90" width="24.30" height="70.20" fill="none" stroke="#000" stroke-width="3.75"/>
<rect x="1156.03" y="221.00" width="24.30" height="88.90" fill="#00C3C3"/>
<rect x="1156.03" y="221.00" width="24.30" height="88.90" fill="none" stroke="#000" stroke-width="3.75"/>
<rect x="1156.03" y="502.45" width="24.30" height="159.55" fill="#C987C3"/>
<rect x="1156.03" y="502.45" width="24.30" height="159.55" fill="none" stroke="#000" stroke-width="3.75"/>
<rect x="1156.03" y="662.00" width="24.30" height="119.60" fill="#0077C0"/>
<rect x="1156.03" y="662.00" width="24.30" height="119.60" fill="none" stroke="#000" stroke-width="3.75"/>
<rect x="1209.71" y="404.00" width="24.30" height="98.45" fill="#fff"/>
<rect x="1209.71" y="404.00" width="24.30" height="98.45" fill="url(#h55)"/>
<rect x="1209.71" y="404.00" width="24.30" height="98.45" fill="none" stroke="#000" stroke-width="3.75"/>
<rect x="1209.71" y="281.00" width="24.30" height="123.00" fill="#fff"/>
<rect x="1209.71" y="281.00" width="24.30" height="123.00" fill="url(#h56)"/>
<rect x="1209.71" y="281.00" width="24.30" height="123.00" fill="none" stroke="#000" stroke-width="3.75"/>
<rect x="1209.71" y="211.80" width="24.30" height="69.20" fill="#fff"/>
<rect x="1209.71" y="211.80" width="24.30" height="69.20" fill="url(#h57)"/>
<rect x="1209.71" y="211.80" width="24.30" height="69.20" fill="none" stroke="#000" stroke-width="3.75"/>
<rect x="1209.71" y="502.45" width="24.30" height="169.75" fill="#fff"/>
<rect x="1209.71" y="502.45" width="24.30" height="169.75" fill="url(#h58)"/>
<rect x="1209.71" y="502.45" width="24.30" height="169.75" fill="none" stroke="#000" stroke-width="3.75"/>
<rect x="1209.71" y="672.20" width="24.30" height="121.40" fill="#fff"/>
<rect x="1209.71" y="672.20" width="24.30" height="121.40" fill="url(#h59)"/>
<rect x="1209.71" y="672.20" width="24.30" height="121.40" fill="none" stroke="#000" stroke-width="3.75"/>
<rect x="1234.01" y="404.70" width="24.30" height="97.75" fill="#F99DB5"/>
<rect x="1234.01" y="404.70" width="24.30" height="97.75" fill="none" stroke="#000" stroke-width="3.75"/>
<rect x="1234.01" y="281.00" width="24.30" height="123.70" fill="#5AAFC6"/>
<rect x="1234.01" y="281.00" width="24.30" height="123.70" fill="none" stroke="#000" stroke-width="3.75"/>
<rect x="1234.01" y="211.80" width="24.30" height="69.20" fill="#F0C89A"/>
<rect x="1234.01" y="211.80" width="24.30" height="69.20" fill="none" stroke="#000" stroke-width="3.75"/>
<rect x="1234.01" y="502.45" width="24.30" height="169.75" fill="#C987C3"/>
<rect x="1234.01" y="502.45" width="24.30" height="169.75" fill="none" stroke="#000" stroke-width="3.75"/>
<rect x="1234.01" y="672.20" width="24.30" height="120.20" fill="#0077C0"/>
<rect x="1234.01" y="672.20" width="24.30" height="120.20" fill="none" stroke="#000" stroke-width="3.75"/>
<rect x="1287.69" y="390.80" width="24.30" height="111.65" fill="#fff"/>
<rect x="1287.69" y="390.80" width="24.30" height="111.65" fill="url(#h60)"/>
<rect x="1287.69" y="390.80" width="24.30" height="111.65" fill="none" stroke="#000" stroke-width="3.75"/>
<rect x="1287.69" y="267.80" width="24.30" height="123.00" fill="#fff"/>
<rect x="1287.69" y="267.80" width="24.30" height="123.00" fill="url(#h61)"/>
<rect x="1287.69" y="267.80" width="24.30" height="123.00" fill="none" stroke="#000" stroke-width="3.75"/>
<rect x="1287.69" y="204.20" width="24.30" height="63.60" fill="#fff"/>
<rect x="1287.69" y="204.20" width="24.30" height="63.60" fill="url(#h62)"/>
<rect x="1287.69" y="204.20" width="24.30" height="63.60" fill="none" stroke="#000" stroke-width="3.75"/>
<rect x="1287.69" y="502.45" width="24.30" height="178.55" fill="#fff"/>
<rect x="1287.69" y="502.45" width="24.30" height="178.55" fill="url(#h63)"/>
<rect x="1287.69" y="502.45" width="24.30" height="178.55" fill="none" stroke="#000" stroke-width="3.75"/>
<rect x="1287.69" y="681.00" width="24.30" height="120.60" fill="#fff"/>
<rect x="1287.69" y="681.00" width="24.30" height="120.60" fill="url(#h64)"/>
<rect x="1287.69" y="681.00" width="24.30" height="120.60" fill="none" stroke="#000" stroke-width="3.75"/>
<rect x="1311.99" y="298.90" width="24.30" height="203.55" fill="#F99DB5"/>
<rect x="1311.99" y="298.90" width="24.30" height="203.55" fill="none" stroke="#000" stroke-width="3.75"/>
<rect x="1311.99" y="176.00" width="24.30" height="122.90" fill="#5AAFC6"/>
<rect x="1311.99" y="176.00" width="24.30" height="122.90" fill="none" stroke="#000" stroke-width="3.75"/>
<rect x="1311.99" y="111.00" width="24.30" height="65.00" fill="#F0C89A"/>
<rect x="1311.99" y="111.00" width="24.30" height="65.00" fill="none" stroke="#000" stroke-width="3.75"/>
<rect x="1311.99" y="502.45" width="24.30" height="178.55" fill="#C987C3"/>
<rect x="1311.99" y="502.45" width="24.30" height="178.55" fill="none" stroke="#000" stroke-width="3.75"/>
<rect x="1311.99" y="681.00" width="24.30" height="119.80" fill="#0077C0"/>
<rect x="1311.99" y="681.00" width="24.30" height="119.80" fill="none" stroke="#000" stroke-width="3.75"/>
<rect x="1311.99" y="800.80" width="24.30" height="90.00" fill="#00B896"/>
<rect x="1311.99" y="800.80" width="24.30" height="90.00" fill="none" stroke="#000" stroke-width="3.75"/>
<rect x="1365.67" y="380.40" width="24.30" height="122.05" fill="#fff"/>
<rect x="1365.67" y="380.40" width="24.30" height="122.05" fill="url(#h65)"/>
<rect x="1365.67" y="380.40" width="24.30" height="122.05" fill="none" stroke="#000" stroke-width="3.75"/>
<rect x="1365.67" y="257.70" width="24.30" height="122.70" fill="#fff"/>
<rect x="1365.67" y="257.70" width="24.30" height="122.70" fill="url(#h66)"/>
<rect x="1365.67" y="257.70" width="24.30" height="122.70" fill="none" stroke="#000" stroke-width="3.75"/>
<rect x="1365.67" y="201.00" width="24.30" height="56.70" fill="#fff"/>
<rect x="1365.67" y="201.00" width="24.30" height="56.70" fill="url(#h67)"/>
<rect x="1365.67" y="201.00" width="24.30" height="56.70" fill="none" stroke="#000" stroke-width="3.75"/>
<rect x="1365.67" y="502.45" width="24.30" height="180.85" fill="#fff"/>
<rect x="1365.67" y="502.45" width="24.30" height="180.85" fill="url(#h68)"/>
<rect x="1365.67" y="502.45" width="24.30" height="180.85" fill="none" stroke="#000" stroke-width="3.75"/>
<rect x="1365.67" y="683.30" width="24.30" height="120.50" fill="#fff"/>
<rect x="1365.67" y="683.30" width="24.30" height="120.50" fill="url(#h69)"/>
<rect x="1365.67" y="683.30" width="24.30" height="120.50" fill="none" stroke="#000" stroke-width="3.75"/>
<rect x="1389.97" y="288.00" width="24.30" height="214.45" fill="#F99DB5"/>
<rect x="1389.97" y="288.00" width="24.30" height="214.45" fill="none" stroke="#000" stroke-width="3.75"/>
<rect x="1389.97" y="165.00" width="24.30" height="123.00" fill="#5AAFC6"/>
<rect x="1389.97" y="165.00" width="24.30" height="123.00" fill="none" stroke="#000" stroke-width="3.75"/>
<rect x="1389.97" y="108.10" width="24.30" height="56.90" fill="#F0C89A"/>
<rect x="1389.97" y="108.10" width="24.30" height="56.90" fill="none" stroke="#000" stroke-width="3.75"/>
<rect x="1389.97" y="502.45" width="24.30" height="180.25" fill="#C987C3"/>
<rect x="1389.97" y="502.45" width="24.30" height="180.25" fill="none" stroke="#000" stroke-width="3.75"/>
<rect x="1389.97" y="682.70" width="24.30" height="121.30" fill="#0077C0"/>
<rect x="1389.97" y="682.70" width="24.30" height="121.30" fill="none" stroke="#000" stroke-width="3.75"/>
<rect x="1389.97" y="804.00" width="24.30" height="88.80" fill="#00B896"/>
<rect x="1389.97" y="804.00" width="24.30" height="88.80" fill="none" stroke="#000" stroke-width="3.75"/>
<rect x="1443.65" y="372.70" width="24.30" height="129.75" fill="#fff"/>
<rect x="1443.65" y="372.70" width="24.30" height="129.75" fill="url(#h70)"/>
<rect x="1443.65" y="372.70" width="24.30" height="129.75" fill="none" stroke="#000" stroke-width="3.75"/>
<rect x="1443.65" y="250.50" width="24.30" height="122.20" fill="#fff"/>
<rect x="1443.65" y="250.50" width="24.30" height="122.20" fill="url(#h71)"/>
<rect x="1443.65" y="250.50" width="24.30" height="122.20" fill="none" stroke="#000" stroke-width="3.75"/>
<rect x="1443.65" y="206.30" width="24.30" height="44.20" fill="#fff"/>
<rect x="1443.65" y="206.30" width="24.30" height="44.20" fill="url(#h72)"/>
<rect x="1443.65" y="206.30" width="24.30" height="44.20" fill="none" stroke="#000" stroke-width="3.75"/>
<rect x="1443.65" y="502.45" width="24.30" height="176.15" fill="#fff"/>
<rect x="1443.65" y="502.45" width="24.30" height="176.15" fill="url(#h73)"/>
<rect x="1443.65" y="502.45" width="24.30" height="176.15" fill="none" stroke="#000" stroke-width="3.75"/>
<rect x="1443.65" y="678.60" width="24.30" height="121.10" fill="#fff"/>
<rect x="1443.65" y="678.60" width="24.30" height="121.10" fill="url(#h74)"/>
<rect x="1443.65" y="678.60" width="24.30" height="121.10" fill="none" stroke="#000" stroke-width="3.75"/>
<rect x="1467.95" y="343.20" width="24.30" height="159.25" fill="#F99DB5"/>
<rect x="1467.95" y="343.20" width="24.30" height="159.25" fill="none" stroke="#000" stroke-width="3.75"/>
<rect x="1467.95" y="219.20" width="24.30" height="124.00" fill="#5AAFC6"/>
<rect x="1467.95" y="219.20" width="24.30" height="124.00" fill="none" stroke="#000" stroke-width="3.75"/>
<rect x="1467.95" y="174.90" width="24.30" height="44.30" fill="#F0C89A"/>
<rect x="1467.95" y="174.90" width="24.30" height="44.30" fill="none" stroke="#000" stroke-width="3.75"/>
<rect x="1467.95" y="502.45" width="24.30" height="176.15" fill="#C987C3"/>
<rect x="1467.95" y="502.45" width="24.30" height="176.15" fill="none" stroke="#000" stroke-width="3.75"/>
<rect x="1467.95" y="678.60" width="24.30" height="119.90" fill="#0077C0"/>
<rect x="1467.95" y="678.60" width="24.30" height="119.90" fill="none" stroke="#000" stroke-width="3.75"/>
<rect x="1467.95" y="798.50" width="24.30" height="30.50" fill="#00B896"/>
<rect x="1467.95" y="798.50" width="24.30" height="30.50" fill="none" stroke="#000" stroke-width="3.75"/>
<rect x="1521.63" y="368.00" width="24.30" height="134.45" fill="#fff"/>
<rect x="1521.63" y="368.00" width="24.30" height="134.45" fill="url(#h75)"/>
<rect x="1521.63" y="368.00" width="24.30" height="134.45" fill="none" stroke="#000" stroke-width="3.75"/>
<rect x="1521.63" y="245.70" width="24.30" height="122.30" fill="#fff"/>
<rect x="1521.63" y="245.70" width="24.30" height="122.30" fill="url(#h76)"/>
<rect x="1521.63" y="245.70" width="24.30" height="122.30" fill="none" stroke="#000" stroke-width="3.75"/>
<rect x="1521.63" y="215.50" width="24.30" height="30.20" fill="#fff"/>
<rect x="1521.63" y="215.50" width="24.30" height="30.20" fill="url(#h77)"/>
<rect x="1521.63" y="215.50" width="24.30" height="30.20" fill="none" stroke="#000" stroke-width="3.75"/>
<rect x="1521.63" y="502.45" width="24.30" height="167.65" fill="#fff"/>
<rect x="1521.63" y="502.45" width="24.30" height="167.65" fill="url(#h78)"/>
<rect x="1521.63" y="502.45" width="24.30" height="167.65" fill="none" stroke="#000" stroke-width="3.75"/>
<rect x="1521.63" y="670.10" width="24.30" height="120.60" fill="#fff"/>
<rect x="1521.63" y="670.10" width="24.30" height="120.60" fill="url(#h79)"/>
<rect x="1521.63" y="670.10" width="24.30" height="120.60" fill="none" stroke="#000" stroke-width="3.75"/>
<rect x="1545.93" y="369.30" width="24.30" height="133.15" fill="#F99DB5"/>
<rect x="1545.93" y="369.30" width="24.30" height="133.15" fill="none" stroke="#000" stroke-width="3.75"/>
<rect x="1545.93" y="245.70" width="24.30" height="123.60" fill="#5AAFC6"/>
<rect x="1545.93" y="245.70" width="24.30" height="123.60" fill="none" stroke="#000" stroke-width="3.75"/>
<rect x="1545.93" y="215.50" width="24.30" height="30.20" fill="#F0C89A"/>
<rect x="1545.93" y="215.50" width="24.30" height="30.20" fill="none" stroke="#000" stroke-width="3.75"/>
<rect x="1545.93" y="502.45" width="24.30" height="167.65" fill="#C987C3"/>
<rect x="1545.93" y="502.45" width="24.30" height="167.65" fill="none" stroke="#000" stroke-width="3.75"/>
<rect x="1545.93" y="670.10" width="24.30" height="119.60" fill="#0077C0"/>
<rect x="1545.93" y="670.10" width="24.30" height="119.60" fill="none" stroke="#000" stroke-width="3.75"/>
<rect x="1599.61" y="365.20" width="24.30" height="137.25" fill="#fff"/>
<rect x="1599.61" y="365.20" width="24.30" height="137.25" fill="url(#h80)"/>
<rect x="1599.61" y="365.20" width="24.30" height="137.25" fill="none" stroke="#000" stroke-width="3.75"/>
<rect x="1599.61" y="241.50" width="24.30" height="123.70" fill="#fff"/>
<rect x="1599.61" y="241.50" width="24.30" height="123.70" fill="url(#h81)"/>
<rect x="1599.61" y="241.50" width="24.30" height="123.70" fill="none" stroke="#000" stroke-width="3.75"/>
<rect x="1599.61" y="226.00" width="24.30" height="15.50" fill="#fff"/>
<rect x="1599.61" y="226.00" width="24.30" height="15.50" fill="url(#h82)"/>
<rect x="1599.61" y="226.00" width="24.30" height="15.50" fill="none" stroke="#000" stroke-width="3.75"/>
<rect x="1599.61" y="502.45" width="24.30" height="156.25" fill="#fff"/>
<rect x="1599.61" y="502.45" width="24.30" height="156.25" fill="url(#h83)"/>
<rect x="1599.61" y="502.45" width="24.30" height="156.25" fill="none" stroke="#000" stroke-width="3.75"/>
<rect x="1599.61" y="658.70" width="24.30" height="119.80" fill="#fff"/>
<rect x="1599.61" y="658.70" width="24.30" height="119.80" fill="url(#h84)"/>
<rect x="1599.61" y="658.70" width="24.30" height="119.80" fill="none" stroke="#000" stroke-width="3.75"/>
<rect x="1623.91" y="366.60" width="24.30" height="135.85" fill="#F99DB5"/>
<rect x="1623.91" y="366.60" width="24.30" height="135.85" fill="none" stroke="#000" stroke-width="3.75"/>
<rect x="1623.91" y="242.00" width="24.30" height="124.60" fill="#5AAFC6"/>
<rect x="1623.91" y="242.00" width="24.30" height="124.60" fill="none" stroke="#000" stroke-width="3.75"/>
<rect x="1623.91" y="227.20" width="24.30" height="14.80" fill="#F0C89A"/>
<rect x="1623.91" y="227.20" width="24.30" height="14.80" fill="none" stroke="#000" stroke-width="3.75"/>
<rect x="1623.91" y="502.45" width="24.30" height="156.25" fill="#C987C3"/>
<rect x="1623.91" y="502.45" width="24.30" height="156.25" fill="none" stroke="#000" stroke-width="3.75"/>
<rect x="1623.91" y="658.70" width="24.30" height="119.80" fill="#0077C0"/>
<rect x="1623.91" y="658.70" width="24.30" height="119.80" fill="none" stroke="#000" stroke-width="3.75"/>
<rect x="1677.59" y="369.60" width="24.30" height="132.85" fill="#fff"/>
<rect x="1677.59" y="369.60" width="24.30" height="132.85" fill="url(#h85)"/>
<rect x="1677.59" y="369.60" width="24.30" height="132.85" fill="none" stroke="#000" stroke-width="3.75"/>
<rect x="1677.59" y="246.90" width="24.30" height="122.70" fill="#fff"/>
<rect x="1677.59" y="246.90" width="24.30" height="122.70" fill="url(#h86)"/>
<rect x="1677.59" y="246.90" width="24.30" height="122.70" fill="none" stroke="#000" stroke-width="3.75"/>
<rect x="1677.59" y="245.20" width="24.30" height="1.70" fill="#fff"/>
<rect x="1677.59" y="245.20" width="24.30" height="1.70" fill="url(#h87)"/>
<rect x="1677.59" y="245.20" width="24.30" height="1.70" fill="none" stroke="#000" stroke-width="3.75"/>
<rect x="1677.59" y="502.45" width="24.30" height="137.55" fill="#fff"/>
<rect x="1677.59" y="502.45" width="24.30" height="137.55" fill="url(#h88)"/>
<rect x="1677.59" y="502.45" width="24.30" height="137.55" fill="none" stroke="#000" stroke-width="3.75"/>
<rect x="1677.59" y="640.00" width="24.30" height="119.90" fill="#fff"/>
<rect x="1677.59" y="640.00" width="24.30" height="119.90" fill="url(#h89)"/>
<rect x="1677.59" y="640.00" width="24.30" height="119.90" fill="none" stroke="#000" stroke-width="3.75"/>
<rect x="1701.89" y="372.60" width="24.30" height="129.85" fill="#F99DB5"/>
<rect x="1701.89" y="372.60" width="24.30" height="129.85" fill="none" stroke="#000" stroke-width="3.75"/>
<rect x="1701.89" y="248.70" width="24.30" height="123.90" fill="#5AAFC6"/>
<rect x="1701.89" y="248.70" width="24.30" height="123.90" fill="none" stroke="#000" stroke-width="3.75"/>
<rect x="1701.89" y="502.45" width="24.30" height="137.65" fill="#C987C3"/>
<rect x="1701.89" y="502.45" width="24.30" height="137.65" fill="none" stroke="#000" stroke-width="3.75"/>
<rect x="1701.89" y="640.10" width="24.30" height="117.30" fill="#0077C0"/>
<rect x="1701.89" y="640.10" width="24.30" height="117.30" fill="none" stroke="#000" stroke-width="3.75"/>
<rect x="1755.57" y="388.90" width="24.30" height="113.55" fill="#fff"/>
<rect x="1755.57" y="388.90" width="24.30" height="113.55" fill="url(#h90)"/>
<rect x="1755.57" y="388.90" width="24.30" height="113.55" fill="none" stroke="#000" stroke-width="3.75"/>
<rect x="1755.57" y="266.90" width="24.30" height="122.00" fill="#fff"/>
<rect x="1755.57" y="266.90" width="24.30" height="122.00" fill="url(#h91)"/>
<rect x="1755.57" y="266.90" width="24.30" height="122.00" fill="none" stroke="#000" stroke-width="3.75"/>
<rect x="1755.57" y="502.45" width="24.30" height="121.25" fill="#fff"/>
<rect x="1755.57" y="502.45" width="24.30" height="121.25" fill="url(#h92)"/>
<rect x="1755.57" y="502.45" width="24.30" height="121.25" fill="none" stroke="#000" stroke-width="3.75"/>
<rect x="1755.57" y="623.70" width="24.30" height="115.00" fill="#fff"/>
<rect x="1755.57" y="623.70" width="24.30" height="115.00" fill="url(#h93)"/>
<rect x="1755.57" y="623.70" width="24.30" height="115.00" fill="none" stroke="#000" stroke-width="3.75"/>
<rect x="1779.87" y="395.80" width="24.30" height="106.65" fill="#F99DB5"/>
<rect x="1779.87" y="395.80" width="24.30" height="106.65" fill="none" stroke="#000" stroke-width="3.75"/>
<rect x="1779.87" y="273.40" width="24.30" height="122.40" fill="#5AAFC6"/>
<rect x="1779.87" y="273.40" width="24.30" height="122.40" fill="none" stroke="#000" stroke-width="3.75"/>
<rect x="1779.87" y="502.45" width="24.30" height="121.25" fill="#C987C3"/>
<rect x="1779.87" y="502.45" width="24.30" height="121.25" fill="none" stroke="#000" stroke-width="3.75"/>
<rect x="1779.87" y="623.70" width="24.30" height="108.60" fill="#0077C0"/>
<rect x="1779.87" y="623.70" width="24.30" height="108.60" fill="none" stroke="#000" stroke-width="3.75"/>
<rect x="1833.55" y="416.10" width="24.30" height="86.35" fill="#fff"/>
<rect x="1833.55" y="416.10" width="24.30" height="86.35" fill="url(#h94)"/>
<rect x="1833.55" y="416.10" width="24.30" height="86.35" fill="none" stroke="#000" stroke-width="3.75"/>
<rect x="1833.55" y="293.10" width="24.30" height="123.00" fill="#fff"/>
<rect x="1833.55" y="293.10" width="24.30" height="123.00" fill="url(#h95)"/>
<rect x="1833.55" y="293.10" width="24.30" height="123.00" fill="none" stroke="#000" stroke-width="3.75"/>
<rect x="1833.55" y="502.45" width="24.30" height="107.45" fill="#fff"/>
<rect x="1833.55" y="502.45" width="24.30" height="107.45" fill="url(#h96)"/>
<rect x="1833.55" y="502.45" width="24.30" height="107.45" fill="none" stroke="#000" stroke-width="3.75"/>
<rect x="1833.55" y="609.90" width="24.30" height="102.70" fill="#fff"/>
<rect x="1833.55" y="609.90" width="24.30" height="102.70" fill="url(#h97)"/>
<rect x="1833.55" y="609.90" width="24.30" height="102.70" fill="none" stroke="#000" stroke-width="3.75"/>
<rect x="1857.85" y="476.50" width="24.30" height="25.95" fill="#F99DB5"/>
<rect x="1857.85" y="476.50" width="24.30" height="25.95" fill="none" stroke="#000" stroke-width="3.75"/>
<rect x="1857.85" y="353.60" width="24.30" height="122.90" fill="#5AAFC6"/>
<rect x="1857.85" y="353.60" width="24.30" height="122.90" fill="none" stroke="#000" stroke-width="3.75"/>
<rect x="1857.85" y="288.20" width="24.30" height="65.40" fill="#00C3C3"/>
<rect x="1857.85" y="288.20" width="24.30" height="65.40" fill="none" stroke="#000" stroke-width="3.75"/>
<rect x="1857.85" y="502.45" width="24.30" height="107.45" fill="#C987C3"/>
<rect x="1857.85" y="502.45" width="24.30" height="107.45" fill="none" stroke="#000" stroke-width="3.75"/>
<rect x="1857.85" y="609.90" width="24.30" height="104.70" fill="#0077C0"/>
<rect x="1857.85" y="609.90" width="24.30" height="104.70" fill="none" stroke="#000" stroke-width="3.75"/>
<rect x="1911.53" y="430.90" width="24.30" height="71.55" fill="#fff"/>
<rect x="1911.53" y="430.90" width="24.30" height="71.55" fill="url(#h98)"/>
<rect x="1911.53" y="430.90" width="24.30" height="71.55" fill="none" stroke="#000" stroke-width="3.75"/>
<rect x="1911.53" y="308.50" width="24.30" height="122.40" fill="#fff"/>
<rect x="1911.53" y="308.50" width="24.30" height="122.40" fill="url(#h99)"/>
<rect x="1911.53" y="308.50" width="24.30" height="122.40" fill="none" stroke="#000" stroke-width="3.75"/>
<rect x="1911.53" y="502.45" width="24.30" height="95.65" fill="#fff"/>
<rect x="1911.53" y="502.45" width="24.30" height="95.65" fill="url(#h100)"/>
<rect x="1911.53" y="502.45" width="24.30" height="95.65" fill="none" stroke="#000" stroke-width="3.75"/>
<rect x="1911.53" y="598.10" width="24.30" height="99.60" fill="#fff"/>
<rect x="1911.53" y="598.10" width="24.30" height="99.60" fill="url(#h101)"/>
<rect x="1911.53" y="598.10" width="24.30" height="99.60" fill="none" stroke="#000" stroke-width="3.75"/>
<rect x="1935.83" y="379.70" width="24.30" height="122.75" fill="#5AAFC6"/>
<rect x="1935.83" y="379.70" width="24.30" height="122.75" fill="none" stroke="#000" stroke-width="3.75"/>
<rect x="1935.83" y="303.40" width="24.30" height="76.30" fill="#00C3C3"/>
<rect x="1935.83" y="303.40" width="24.30" height="76.30" fill="none" stroke="#000" stroke-width="3.75"/>
<rect x="1935.83" y="502.45" width="24.30" height="95.25" fill="#C987C3"/>
<rect x="1935.83" y="502.45" width="24.30" height="95.25" fill="none" stroke="#000" stroke-width="3.75"/>
<rect x="1935.83" y="597.70" width="24.30" height="100.80" fill="#0077C0"/>
<rect x="1935.83" y="597.70" width="24.30" height="100.80" fill="none" stroke="#000" stroke-width="3.75"/>
<rect x="1989.51" y="445.00" width="24.30" height="57.45" fill="#fff"/>
<rect x="1989.51" y="445.00" width="24.30" height="57.45" fill="url(#h102)"/>
<rect x="1989.51" y="445.00" width="24.30" height="57.45" fill="none" stroke="#000" stroke-width="3.75"/>
<rect x="1989.51" y="323.10" width="24.30" height="121.90" fill="#fff"/>
<rect x="1989.51" y="323.10" width="24.30" height="121.90" fill="url(#h103)"/>
<rect x="1989.51" y="323.10" width="24.30" height="121.90" fill="none" stroke="#000" stroke-width="3.75"/>
<rect x="1989.51" y="502.45" width="24.30" height="85.15" fill="#fff"/>
<rect x="1989.51" y="502.45" width="24.30" height="85.15" fill="url(#h104)"/>
<rect x="1989.51" y="502.45" width="24.30" height="85.15" fill="none" stroke="#000" stroke-width="3.75"/>
<rect x="1989.51" y="587.60" width="24.30" height="95.40" fill="#fff"/>
<rect x="1989.51" y="587.60" width="24.30" height="95.40" fill="url(#h105)"/>
<rect x="1989.51" y="587.60" width="24.30" height="95.40" fill="none" stroke="#000" stroke-width="3.75"/>
<rect x="2013.81" y="379.70" width="24.30" height="122.75" fill="#5AAFC6"/>
<rect x="2013.81" y="379.70" width="24.30" height="122.75" fill="none" stroke="#000" stroke-width="3.75"/>
<rect x="2013.81" y="313.30" width="24.30" height="66.40" fill="#00C3C3"/>
<rect x="2013.81" y="313.30" width="24.30" height="66.40" fill="none" stroke="#000" stroke-width="3.75"/>
<rect x="2013.81" y="502.45" width="24.30" height="85.15" fill="#C987C3"/>
<rect x="2013.81" y="502.45" width="24.30" height="85.15" fill="none" stroke="#000" stroke-width="3.75"/>
<rect x="2013.81" y="587.60" width="24.30" height="101.70" fill="#0077C0"/>
<rect x="2013.81" y="587.60" width="24.30" height="101.70" fill="none" stroke="#000" stroke-width="3.75"/>
<rect x="2067.49" y="345.90" width="24.30" height="156.55" fill="#fff"/>
<rect x="2067.49" y="345.90" width="24.30" height="156.55" fill="url(#h106)"/>
<rect x="2067.49" y="345.90" width="24.30" height="156.55" fill="none" stroke="#000" stroke-width="3.75"/>
<rect x="2067.49" y="321.00" width="24.30" height="24.90" fill="#fff"/>
<rect x="2067.49" y="321.00" width="24.30" height="24.90" fill="url(#h107)"/>
<rect x="2067.49" y="321.00" width="24.30" height="24.90" fill="none" stroke="#000" stroke-width="3.75"/>
<rect x="2067.49" y="502.45" width="24.30" height="69.55" fill="#fff"/>
<rect x="2067.49" y="502.45" width="24.30" height="69.55" fill="url(#h108)"/>
<rect x="2067.49" y="502.45" width="24.30" height="69.55" fill="none" stroke="#000" stroke-width="3.75"/>
<rect x="2067.49" y="572.00" width="24.30" height="112.80" fill="#fff"/>
<rect x="2067.49" y="572.00" width="24.30" height="112.80" fill="url(#h109)"/>
<rect x="2067.49" y="572.00" width="24.30" height="112.80" fill="none" stroke="#000" stroke-width="3.75"/>
<rect x="2091.79" y="346.10" width="24.30" height="156.35" fill="#F99DB5"/>
<rect x="2091.79" y="346.10" width="24.30" height="156.35" fill="none" stroke="#000" stroke-width="3.75"/>
<rect x="2091.79" y="321.00" width="24.30" height="25.10" fill="#5AAFC6"/>
<rect x="2091.79" y="321.00" width="24.30" height="25.10" fill="none" stroke="#000" stroke-width="3.75"/>
<rect x="2091.79" y="502.45" width="24.30" height="69.55" fill="#C987C3"/>
<rect x="2091.79" y="502.45" width="24.30" height="69.55" fill="none" stroke="#000" stroke-width="3.75"/>
<rect x="2091.79" y="572.00" width="24.30" height="111.70" fill="#0077C0"/>
<rect x="2091.79" y="572.00" width="24.30" height="111.70" fill="none" stroke="#000" stroke-width="3.75"/>
<line x1="239.4" y1="502.45" x2="2141.4" y2="502.45" stroke="#000" stroke-width="5.0"/>
<line x1="239" y1="116.32" x2="253.8" y2="116.32" stroke="#000" stroke-width="5.2"/>
<line x1="239" y1="245.18" x2="253.8" y2="245.18" stroke="#000" stroke-width="5.2"/>
<line x1="239" y1="374.04" x2="253.8" y2="374.04" stroke="#000" stroke-width="5.2"/>
<line x1="239" y1="631.76" x2="253.8" y2="631.76" stroke="#000" stroke-width="5.2"/>
<line x1="239" y1="760.62" x2="253.8" y2="760.62" stroke="#000" stroke-width="5.2"/>
<line x1="239" y1="889.48" x2="253.8" y2="889.48" stroke="#000" stroke-width="5.2"/>
<line x1="239" y1="1018.34" x2="253.8" y2="1018.34" stroke="#000" stroke-width="5.2"/>
<line x1="364.08" y1="1036" x2="364.08" y2="1050" stroke="#000" stroke-width="5.4"/>
<line x1="520.04" y1="1036" x2="520.04" y2="1050" stroke="#000" stroke-width="5.4"/>
<line x1="676.00" y1="1036" x2="676.00" y2="1050" stroke="#000" stroke-width="5.4"/>
<line x1="831.96" y1="1036" x2="831.96" y2="1050" stroke="#000" stroke-width="5.4"/>
<line x1="987.92" y1="1036" x2="987.92" y2="1050" stroke="#000" stroke-width="5.4"/>
<line x1="1143.88" y1="1036" x2="1143.88" y2="1050" stroke="#000" stroke-width="5.4"/>
<line x1="1299.84" y1="1036" x2="1299.84" y2="1050" stroke="#000" stroke-width="5.4"/>
<line x1="1455.80" y1="1036" x2="1455.80" y2="1050" stroke="#000" stroke-width="5.4"/>
<line x1="1611.76" y1="1036" x2="1611.76" y2="1050" stroke="#000" stroke-width="5.4"/>
<line x1="1767.72" y1="1036" x2="1767.72" y2="1050" stroke="#000" stroke-width="5.4"/>
<line x1="1923.68" y1="1036" x2="1923.68" y2="1050" stroke="#000" stroke-width="5.4"/>
<line x1="2079.64" y1="1036" x2="2079.64" y2="1050" stroke="#000" stroke-width="5.4"/>
<line x1="239.4" y1="16.9" x2="239.4" y2="1053.9" stroke="#000" stroke-width="5"/>
<line x1="236.9" y1="19.4" x2="2143.9" y2="19.4" stroke="#000" stroke-width="5"/>
<line x1="2141.45" y1="16.9" x2="2141.45" y2="1053.9" stroke="#000" stroke-width="4.9"/>
<line x1="236.9" y1="1050.95" x2="2143.9" y2="1050.95" stroke="#000" stroke-width="5.7"/>
<rect x="600.88" y="47.27" width="85.85" height="41.45" fill="#fff"/>
<rect x="600.88" y="47.27" width="85.85" height="41.45" fill="url(#h110)"/>
<rect x="600.88" y="47.27" width="85.85" height="41.45" fill="none" stroke="#000" stroke-width="3.75"/>
<rect x="890.98" y="47.08" width="85.95" height="41.65" fill="#fff"/>
<rect x="890.98" y="47.08" width="85.95" height="41.65" fill="url(#h111)"/>
<rect x="890.98" y="47.08" width="85.95" height="41.65" fill="none" stroke="#000" stroke-width="3.75"/>
<rect x="1215.88" y="47.17" width="86.15" height="41.55" fill="#fff"/>
<rect x="1215.88" y="47.17" width="86.15" height="41.55" fill="url(#h112)"/>
<rect x="1215.88" y="47.17" width="86.15" height="41.55" fill="none" stroke="#000" stroke-width="3.75"/>
<rect x="1453.08" y="47.17" width="85.85" height="41.55" fill="#fff"/>
<rect x="1453.08" y="47.17" width="85.85" height="41.55" fill="url(#h113)"/>
<rect x="1453.08" y="47.17" width="85.85" height="41.55" fill="none" stroke="#000" stroke-width="3.75"/>
<rect x="1793.97" y="47.08" width="85.85" height="41.55" fill="#fff"/>
<rect x="1793.97" y="47.08" width="85.85" height="41.55" fill="url(#h114)"/>
<rect x="1793.97" y="47.08" width="85.85" height="41.55" fill="none" stroke="#000" stroke-width="3.75"/>
<rect x="594.27" y="864.17" width="86.25" height="42.45" fill="#F99DB5"/>
<rect x="594.27" y="864.17" width="86.25" height="42.45" fill="none" stroke="#000" stroke-width="3.75"/>
<rect x="884.27" y="864.17" width="86.45" height="42.45" fill="#5AAFC6"/>
<rect x="884.27" y="864.17" width="86.45" height="42.45" fill="none" stroke="#000" stroke-width="3.75"/>
<rect x="1208.88" y="864.27" width="86.05" height="42.35" fill="#F0C89A"/>
<rect x="1208.88" y="864.27" width="86.05" height="42.35" fill="none" stroke="#000" stroke-width="3.75"/>
<rect x="1447.08" y="864.27" width="85.75" height="42.35" fill="#00C3C3"/>
<rect x="1447.08" y="864.27" width="85.75" height="42.35" fill="none" stroke="#000" stroke-width="3.75"/>
<rect x="1779.17" y="864.27" width="86.45" height="42.45" fill="#C987C3"/>
<rect x="1779.17" y="864.27" width="86.45" height="42.45" fill="none" stroke="#000" stroke-width="3.75"/>
<rect x="291.88" y="966.17" width="86.25" height="42.15" fill="#0077C0"/>
<rect x="291.88" y="966.17" width="86.25" height="42.15" fill="none" stroke="#000" stroke-width="3.75"/>
<rect x="649.17" y="966.48" width="86.75" height="41.55" fill="#00B896"/>
<rect x="649.17" y="966.48" width="86.75" height="41.55" fill="none" stroke="#000" stroke-width="3.75"/>
<g filter="url(#bin)">
<text id="y1200" x="224.00" y="132.07" font-size="53.00" text-anchor="end">1200</text>
<text id="y800" x="224.00" y="260.93" font-size="53.00" text-anchor="end">800</text>
<text id="y400" x="224.00" y="389.79" font-size="53.00" text-anchor="end">400</text>
<text id="y0" x="224.00" y="518.65" font-size="53.00" text-anchor="end">0</text>
<text id="y-400" x="224.00" y="647.51" font-size="53.00" text-anchor="end">-400</text>
<text id="y-800" x="224.00" y="776.37" font-size="53.00" text-anchor="end">-800</text>
<text id="y-1200" x="224.00" y="905.23" font-size="53.00" text-anchor="end">-1200</text>
<text id="y-1600" x="224.00" y="1034.09" font-size="53.00" text-anchor="end">-1600</text>
<text id="x2" x="364.08" y="1107.00" font-size="53.00" text-anchor="middle">2</text>
<text id="x4" x="520.04" y="1107.00" font-size="53.00" text-anchor="middle">4</text>
<text id="x6" x="676.00" y="1107.00" font-size="53.00" text-anchor="middle">6</text>
<text id="x8" x="831.96" y="1107.00" font-size="53.00" text-anchor="middle">8</text>
<text id="x10" x="987.92" y="1107.00" font-size="53.00" text-anchor="middle">10</text>
<text id="x12" x="1143.88" y="1107.00" font-size="53.00" text-anchor="middle">12</text>
<text id="x14" x="1299.84" y="1107.00" font-size="53.00" text-anchor="middle">14</text>
<text id="x16" x="1455.80" y="1107.00" font-size="53.00" text-anchor="middle">16</text>
<text id="x18" x="1611.76" y="1107.00" font-size="53.00" text-anchor="middle">18</text>
<text id="x20" x="1767.72" y="1107.00" font-size="53.00" text-anchor="middle">20</text>
<text id="x22" x="1923.68" y="1107.00" font-size="53.00" text-anchor="middle">22</text>
<text id="x24" x="2079.64" y="1107.00" font-size="53.00" text-anchor="middle">24</text>
<text id="xtitle" x="1191.00" y="1184.30" font-size="66.70" text-anchor="middle">Time (h)</text>
<text id="sys2" x="261.42" y="90.70" font-size="72.22">System 2</text>
<text id="col2" x="532.00" y="91.70" font-size="60.00" font-weight="bold">:</text>
<text id="sys3" x="254.65" y="907.40" font-size="71.44">System 3</text>
<text id="col3" x="524.00" y="908.60" font-size="60.00" font-weight="bold">:</text>
<text id="t_grid_m" x="705.00" y="89.70" font-size="74.70" font-style="italic">P</text>
<text id="t_grid_s" x="750.01" y="107.30" font-size="75.81" font-style="italic">grid</text>
<text id="t_chp_m" x="995.00" y="89.70" font-size="74.70" font-style="italic">P</text>
<text id="t_chp_s" x="1040.04" y="107.30" font-size="72.79" font-style="italic">chp,e</text>
<text id="t_pv_m" x="1320.00" y="89.70" font-size="74.70" font-style="italic">P</text>
<text id="t_pv_s" x="1362.96" y="107.30" font-size="74.56" font-style="italic">pv</text>
<text id="t_user_m" x="1558.50" y="89.70" font-size="74.70" font-style="italic">L</text>
<text id="t_user_s" x="1598.95" y="107.30" font-size="75.76" font-style="italic">user,e</text>
<text id="t_gshp_m" x="1898.02" y="89.70" font-size="74.70" font-style="italic">P</text>
<text id="t_gshp_s" x="1942.98" y="107.30" font-size="72.33" font-style="italic">gshp,e</text>
<text id="b_grid_m" x="698.50" y="906.80" font-size="74.70" font-style="italic">P</text>
<text id="b_grid_s" x="743.01" y="925.50" font-size="75.69" font-style="italic">grid</text>
<text id="b_chp_m" x="988.50" y="906.80" font-size="74.70" font-style="italic">P</text>
<text id="b_chp_s" x="1034.08" y="925.50" font-size="71.64" font-style="italic">chp,e</text>
<text id="b_pv_m" x="1313.50" y="906.80" font-size="74.70" font-style="italic">P</text>
<text id="b_pv_s" x="1355.94" y="925.50" font-size="73.72" font-style="italic">pv</text>
<text id="b_dis_m" x="1550.50" y="906.80" font-size="74.70" font-style="italic">P</text>
<text id="b_dis_s" x="1596.01" y="925.50" font-size="73.32" font-style="italic">dis,es</text>
<text id="b_user_m" x="1884.50" y="906.80" font-size="74.70" font-style="italic">L</text>
<text id="b_user_s" x="1923.93" y="925.50" font-size="76.11" font-style="italic">user,e</text>
<text id="c_gshp_m" x="396.51" y="1008.70" font-size="74.70" font-style="italic">P</text>
<text id="c_gshp_s" x="441.49" y="1027.90" font-size="72.25" font-style="italic">gshp,e</text>
<text id="c_ch_m" x="753.99" y="1008.70" font-size="74.70" font-style="italic">P</text>
<text id="c_ch_s" x="798.03" y="1027.90" font-size="72.89" font-style="italic">ch,es</text>
<text id="ytitle" transform="translate(92.3,577.4) rotate(-90)" font-size="64.90" text-anchor="middle">Electricity balance relation (kW)</text>
</g>
</svg>
</body></html>
